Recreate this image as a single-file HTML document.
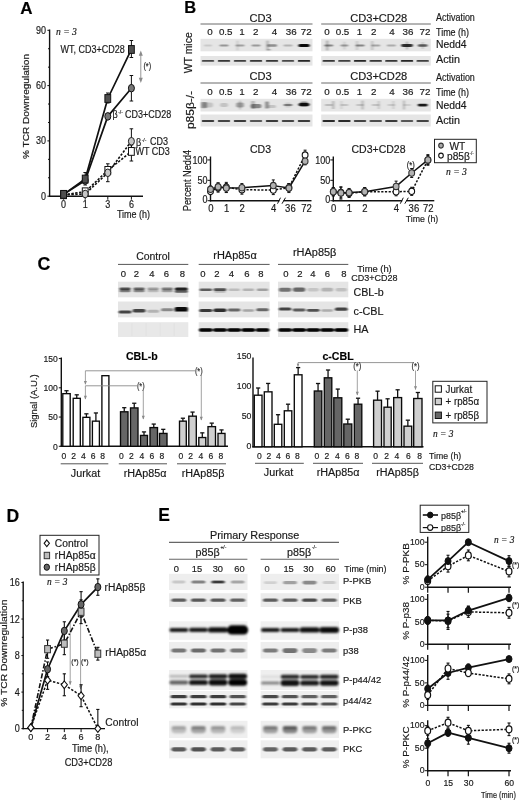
<!DOCTYPE html>
<html><head><meta charset="utf-8"><title>Figure</title>
<style>
html,body{margin:0;padding:0;background:#fff;}
body{width:520px;height:801px;overflow:hidden;font-family:"Liberation Sans",sans-serif;}
svg{display:block;filter:grayscale(1) blur(0.35px);}
svg text{font-family:"Liberation Sans",sans-serif;fill:#1a1a1a;stroke:#1a1a1a;stroke-width:0.18px;}
</style></head><body>
<svg width="520" height="801" viewBox="0 0 520 801">
<defs>
<filter id="b1" x="-5%" y="-50%" width="110%" height="200%"><feGaussianBlur stdDeviation="0.9 0.7"/></filter>
<filter id="b2" x="-5%" y="-50%" width="110%" height="200%"><feGaussianBlur stdDeviation="1.2 0.9"/></filter>
<filter id="b0" x="-5%" y="-50%" width="110%" height="200%"><feGaussianBlur stdDeviation="0.6 0.5"/></filter>
</defs>
<rect x="0" y="0" width="520" height="801" fill="#ffffff"/>
<text transform="translate(20.30 13.60)" font-size="17" font-weight="bold" style="fill:#000">A</text>
<line x1="49.60" y1="29.50" x2="49.60" y2="196.80" stroke="#111" stroke-width="1.4"/>
<line x1="48.90" y1="196.20" x2="143.00" y2="196.20" stroke="#111" stroke-width="1.4"/>
<line x1="47.40" y1="196.20" x2="49.60" y2="196.20" stroke="#111" stroke-width="1"/>
<line x1="48.00" y1="177.77" x2="49.60" y2="177.77" stroke="#111" stroke-width="1"/>
<line x1="48.00" y1="159.33" x2="49.60" y2="159.33" stroke="#111" stroke-width="1"/>
<line x1="47.40" y1="140.90" x2="49.60" y2="140.90" stroke="#111" stroke-width="1"/>
<line x1="48.00" y1="122.47" x2="49.60" y2="122.47" stroke="#111" stroke-width="1"/>
<line x1="48.00" y1="104.03" x2="49.60" y2="104.03" stroke="#111" stroke-width="1"/>
<line x1="47.40" y1="85.60" x2="49.60" y2="85.60" stroke="#111" stroke-width="1"/>
<line x1="48.00" y1="67.17" x2="49.60" y2="67.17" stroke="#111" stroke-width="1"/>
<line x1="48.00" y1="48.73" x2="49.60" y2="48.73" stroke="#111" stroke-width="1"/>
<line x1="47.40" y1="30.30" x2="49.60" y2="30.30" stroke="#111" stroke-width="1"/>
<text transform="translate(46.00 199.78) scale(0.9 1)" font-size="10" text-anchor="end">0</text>
<text transform="translate(46.00 144.48) scale(0.9 1)" font-size="10" text-anchor="end">30</text>
<text transform="translate(46.00 89.18) scale(0.9 1)" font-size="10" text-anchor="end">60</text>
<text transform="translate(46.00 33.88) scale(0.9 1)" font-size="10" text-anchor="end">90</text>
<line x1="63.60" y1="196.20" x2="63.60" y2="199.70" stroke="#111" stroke-width="1"/>
<text transform="translate(63.60 208.38) scale(0.9 1)" font-size="10" text-anchor="middle">0</text>
<line x1="85.20" y1="196.20" x2="85.20" y2="199.70" stroke="#111" stroke-width="1"/>
<text transform="translate(85.20 208.38) scale(0.9 1)" font-size="10" text-anchor="middle">1</text>
<line x1="107.80" y1="196.20" x2="107.80" y2="199.70" stroke="#111" stroke-width="1"/>
<text transform="translate(107.80 208.38) scale(0.9 1)" font-size="10" text-anchor="middle">3</text>
<line x1="131.40" y1="196.20" x2="131.40" y2="199.70" stroke="#111" stroke-width="1"/>
<text transform="translate(131.40 208.38) scale(0.9 1)" font-size="10" text-anchor="middle">6</text>
<text transform="translate(133.50 218.38) scale(0.9 1)" font-size="10" text-anchor="middle">Time (h)</text>
<text transform="translate(28.74 106.50) rotate(-90) scale(1.02 1)" font-size="9.9" text-anchor="middle">% TCR Downregulation</text>
<text transform="translate(56.00 34.60)" font-size="9.6" font-style="italic" style='font-family:"Liberation Serif", serif'>n = 3</text>
<polyline points="63.60,194.73 85.20,191.78 107.80,170.39 131.40,151.41" fill="none" stroke="#111" stroke-width="1.6" stroke-linejoin="round" stroke-dasharray="2.4 1.5"/>
<polyline points="63.60,194.73 85.20,193.99 107.80,172.79 131.40,141.27" fill="none" stroke="#111" stroke-width="1.6" stroke-linejoin="round" stroke-dasharray="2.4 1.5"/>
<polyline points="63.60,194.36 85.20,180.53 107.80,116.38 131.40,88.18" fill="none" stroke="#111" stroke-width="1.7" stroke-linejoin="round"/>
<polyline points="63.60,194.36 85.20,179.06 107.80,98.50 131.40,49.47" fill="none" stroke="#111" stroke-width="1.7" stroke-linejoin="round"/>
<line x1="131.40" y1="40.50" x2="131.40" y2="57.50" stroke="#111" stroke-width="1"/>
<line x1="129.60" y1="40.50" x2="133.20" y2="40.50" stroke="#111" stroke-width="1"/>
<line x1="129.60" y1="57.50" x2="133.20" y2="57.50" stroke="#111" stroke-width="1"/>
<line x1="131.40" y1="75.50" x2="131.40" y2="101.00" stroke="#111" stroke-width="1"/>
<line x1="129.60" y1="75.50" x2="133.20" y2="75.50" stroke="#111" stroke-width="1"/>
<line x1="129.60" y1="101.00" x2="133.20" y2="101.00" stroke="#111" stroke-width="1"/>
<line x1="131.40" y1="128.80" x2="131.40" y2="150.00" stroke="#111" stroke-width="1"/>
<line x1="129.60" y1="128.80" x2="133.20" y2="128.80" stroke="#111" stroke-width="1"/>
<line x1="129.60" y1="150.00" x2="133.20" y2="150.00" stroke="#111" stroke-width="1"/>
<line x1="131.40" y1="145.00" x2="131.40" y2="161.00" stroke="#111" stroke-width="1"/>
<line x1="129.60" y1="145.00" x2="133.20" y2="145.00" stroke="#111" stroke-width="1"/>
<line x1="129.60" y1="161.00" x2="133.20" y2="161.00" stroke="#111" stroke-width="1"/>
<line x1="107.80" y1="163.80" x2="107.80" y2="181.70" stroke="#111" stroke-width="1"/>
<line x1="106.00" y1="163.80" x2="109.60" y2="163.80" stroke="#111" stroke-width="1"/>
<line x1="106.00" y1="181.70" x2="109.60" y2="181.70" stroke="#111" stroke-width="1"/>
<line x1="85.20" y1="172.50" x2="85.20" y2="185.00" stroke="#111" stroke-width="1"/>
<line x1="83.40" y1="172.50" x2="87.00" y2="172.50" stroke="#111" stroke-width="1"/>
<line x1="83.40" y1="185.00" x2="87.00" y2="185.00" stroke="#111" stroke-width="1"/>
<line x1="107.80" y1="93.00" x2="107.80" y2="103.00" stroke="#111" stroke-width="1"/>
<line x1="106.00" y1="93.00" x2="109.60" y2="93.00" stroke="#111" stroke-width="1"/>
<line x1="106.00" y1="103.00" x2="109.60" y2="103.00" stroke="#111" stroke-width="1"/>
<rect x="60.70" y="190.83" width="5.80" height="7.80" fill="#fff" stroke="#111" stroke-width="1" />
<rect x="82.30" y="187.88" width="5.80" height="7.80" fill="#fff" stroke="#111" stroke-width="1" />
<rect x="104.90" y="166.49" width="5.80" height="7.80" fill="#fff" stroke="#111" stroke-width="1" />
<rect x="128.50" y="147.51" width="5.80" height="7.80" fill="#fff" stroke="#111" stroke-width="1" />
<ellipse cx="63.60" cy="194.73" rx="3.0" ry="3.8" fill="#c6c6c6" stroke="#222" stroke-width="1" />
<ellipse cx="85.20" cy="193.99" rx="3.0" ry="3.8" fill="#c6c6c6" stroke="#222" stroke-width="1" />
<ellipse cx="107.80" cy="172.79" rx="3.0" ry="3.8" fill="#c6c6c6" stroke="#222" stroke-width="1" />
<ellipse cx="131.40" cy="141.27" rx="3.0" ry="3.8" fill="#c6c6c6" stroke="#222" stroke-width="1" />
<ellipse cx="63.60" cy="194.36" rx="3.0" ry="3.8" fill="#777" stroke="#111" stroke-width="1" />
<ellipse cx="85.20" cy="180.53" rx="3.0" ry="3.8" fill="#777" stroke="#111" stroke-width="1" />
<ellipse cx="107.80" cy="116.38" rx="3.0" ry="3.8" fill="#777" stroke="#111" stroke-width="1" />
<ellipse cx="131.40" cy="88.18" rx="3.0" ry="3.8" fill="#777" stroke="#111" stroke-width="1" />
<rect x="60.70" y="190.46" width="5.80" height="7.80" fill="#4f4f4f" stroke="#111" stroke-width="1" />
<rect x="82.30" y="175.16" width="5.80" height="7.80" fill="#4f4f4f" stroke="#111" stroke-width="1" />
<rect x="104.90" y="94.60" width="5.80" height="7.80" fill="#4f4f4f" stroke="#111" stroke-width="1" />
<rect x="128.50" y="45.57" width="5.80" height="7.80" fill="#4f4f4f" stroke="#111" stroke-width="1" />
<text transform="translate(60.50 52.88) scale(0.9 1)" font-size="10">WT, CD3+CD28</text>
<text transform="translate(112.50 118.30) scale(0.9 1)" font-size="10">β</text>
<text transform="translate(118.20 114.30) scale(0.9 1)" font-size="5.5">-/-</text>
<text transform="translate(125.00 117.88) scale(0.9 1)" font-size="10">CD3+CD28</text>
<text transform="translate(136.00 145.60) scale(0.9 1)" font-size="10">β</text>
<text transform="translate(141.70 141.60) scale(0.9 1)" font-size="5.5">-/-</text>
<text transform="translate(150.00 145.38) scale(0.9 1)" font-size="10">CD3</text>
<text transform="translate(135.50 155.38) scale(0.9 1)" font-size="10">WT CD3</text>
<line x1="140.80" y1="53.00" x2="140.80" y2="80.50" stroke="#8a8a8a" stroke-width="0.9"/>
<polygon points="140.8,50.5 138.8,55.8 142.8,55.8" fill="#8a8a8a"/><polygon points="140.8,83 138.8,77.7 142.8,77.7" fill="#8a8a8a"/>
<text transform="translate(147.30 68.94) scale(0.9 1)" font-size="8.2" text-anchor="middle" style="fill:#333">(*)</text>
<text transform="translate(184.30 13.40)" font-size="16.5" font-weight="bold" style="fill:#000">B</text>
<text transform="translate(192.27 52.80) rotate(-90) scale(0.97 1)" font-size="10.8" text-anchor="middle">WT mice</text>
<text transform="translate(193.68 110.00) rotate(-90) scale(1.05 1)" font-size="11.4" text-anchor="middle">p85β-/-</text>
<text transform="translate(260.50 22.37)" font-size="11.1" text-anchor="middle">CD3</text>
<text transform="translate(378.70 22.37)" font-size="11.1" text-anchor="middle">CD3+CD28</text>
<line x1="200.50" y1="24.00" x2="312.50" y2="24.00" stroke="#6a6a6a" stroke-width="1"/>
<line x1="321.20" y1="24.00" x2="430.80" y2="24.00" stroke="#6a6a6a" stroke-width="1"/>
<text transform="translate(210.00 34.71)" font-size="9.8" text-anchor="middle">0</text>
<text transform="translate(225.70 34.71)" font-size="9.8" text-anchor="middle">0.5</text>
<text transform="translate(242.00 34.71)" font-size="9.8" text-anchor="middle">1</text>
<text transform="translate(255.80 34.71)" font-size="9.8" text-anchor="middle">2</text>
<text transform="translate(274.50 34.71)" font-size="9.8" text-anchor="middle">4</text>
<text transform="translate(291.20 34.71)" font-size="9.8" text-anchor="middle">36</text>
<text transform="translate(306.30 34.71)" font-size="9.8" text-anchor="middle">72</text>
<text transform="translate(327.00 34.71)" font-size="9.8" text-anchor="middle">0</text>
<text transform="translate(342.50 34.71)" font-size="9.8" text-anchor="middle">0.5</text>
<text transform="translate(359.50 34.71)" font-size="9.8" text-anchor="middle">1</text>
<text transform="translate(373.80 34.71)" font-size="9.8" text-anchor="middle">2</text>
<text transform="translate(392.00 34.71)" font-size="9.8" text-anchor="middle">4</text>
<text transform="translate(408.00 34.71)" font-size="9.8" text-anchor="middle">36</text>
<text transform="translate(425.00 34.71)" font-size="9.8" text-anchor="middle">72</text>
<text transform="translate(436.00 21.15) scale(0.88 1)" font-size="10.2">Activation</text>
<text transform="translate(436.00 35.65) scale(0.88 1)" font-size="10.2">Time (h)</text>
<text transform="translate(436.00 48.42) scale(0.96 1)" font-size="10.8">Nedd4</text>
<text transform="translate(436.00 63.17)" font-size="10.8">Actin</text>
<text transform="translate(260.50 80.37)" font-size="11.1" text-anchor="middle">CD3</text>
<text transform="translate(378.70 80.37)" font-size="11.1" text-anchor="middle">CD3+CD28</text>
<line x1="200.50" y1="83.00" x2="312.50" y2="83.00" stroke="#6a6a6a" stroke-width="1"/>
<line x1="321.20" y1="83.00" x2="430.80" y2="83.00" stroke="#6a6a6a" stroke-width="1"/>
<text transform="translate(210.00 94.91)" font-size="9.8" text-anchor="middle">0</text>
<text transform="translate(225.70 94.91)" font-size="9.8" text-anchor="middle">0.5</text>
<text transform="translate(242.00 94.91)" font-size="9.8" text-anchor="middle">1</text>
<text transform="translate(255.80 94.91)" font-size="9.8" text-anchor="middle">2</text>
<text transform="translate(274.50 94.91)" font-size="9.8" text-anchor="middle">4</text>
<text transform="translate(291.20 94.91)" font-size="9.8" text-anchor="middle">36</text>
<text transform="translate(306.30 94.91)" font-size="9.8" text-anchor="middle">72</text>
<text transform="translate(327.00 94.91)" font-size="9.8" text-anchor="middle">0</text>
<text transform="translate(342.50 94.91)" font-size="9.8" text-anchor="middle">0.5</text>
<text transform="translate(359.50 94.91)" font-size="9.8" text-anchor="middle">1</text>
<text transform="translate(373.80 94.91)" font-size="9.8" text-anchor="middle">2</text>
<text transform="translate(392.00 94.91)" font-size="9.8" text-anchor="middle">4</text>
<text transform="translate(408.00 94.91)" font-size="9.8" text-anchor="middle">36</text>
<text transform="translate(425.00 94.91)" font-size="9.8" text-anchor="middle">72</text>
<text transform="translate(436.00 80.65) scale(0.88 1)" font-size="10.2">Activation</text>
<text transform="translate(436.00 95.85) scale(0.88 1)" font-size="10.2">Time (h)</text>
<text transform="translate(436.00 108.52) scale(0.96 1)" font-size="10.8">Nedd4</text>
<text transform="translate(436.00 124.37)" font-size="10.8">Actin</text>
<rect x="200.50" y="38.80" width="112.00" height="12.50" fill="#e5e5e5" />
<g filter="url(#b1)" clip-path="none">
<rect x="204.00" y="44.50" width="8.00" height="2.00" rx="1.00" fill="#000" fill-opacity="0.12"/>
<rect x="219.50" y="44.50" width="9.00" height="2.00" rx="1.00" fill="#000" fill-opacity="0.35"/>
<rect x="235.50" y="44.50" width="9.00" height="2.00" rx="1.00" fill="#000" fill-opacity="0.3"/>
<rect x="236.30" y="40.50" width="2.40" height="10.00" rx="0.54" fill="#000" fill-opacity="0.1"/>
<rect x="251.50" y="44.50" width="9.00" height="2.00" rx="1.00" fill="#000" fill-opacity="0.33"/>
<rect x="267.00" y="44.30" width="10.00" height="2.40" rx="1.20" fill="#000" fill-opacity="0.38"/>
<rect x="266.00" y="40.50" width="3.00" height="10.00" rx="0.68" fill="#000" fill-opacity="0.18"/>
<rect x="267.00" y="49.00" width="4.00" height="1.60" rx="0.80" fill="#000" fill-opacity="0.22"/>
<rect x="283.50" y="44.60" width="9.00" height="1.80" rx="0.90" fill="#000" fill-opacity="0.22"/>
<rect x="298.40" y="44.00" width="11.20" height="3.00" rx="1.50" fill="#000" fill-opacity="0.95"/>
<rect x="299.50" y="44.50" width="9.00" height="2.00" rx="1.00" fill="#000" fill-opacity="0.5"/>
</g>
<rect x="321.20" y="38.80" width="109.60" height="12.50" fill="#e5e5e5" />
<g filter="url(#b1)" clip-path="none">
<rect x="324.23" y="44.40" width="9.00" height="2.20" rx="1.10" fill="#000" fill-opacity="0.42"/>
<rect x="325.93" y="40.50" width="2.60" height="10.00" rx="0.59" fill="#000" fill-opacity="0.22"/>
<rect x="340.39" y="44.50" width="8.00" height="2.00" rx="1.00" fill="#000" fill-opacity="0.32"/>
<rect x="343.19" y="41.50" width="2.40" height="8.00" rx="0.54" fill="#000" fill-opacity="0.1"/>
<rect x="355.54" y="44.50" width="9.00" height="2.00" rx="1.00" fill="#000" fill-opacity="0.42"/>
<rect x="355.84" y="41.00" width="2.40" height="9.00" rx="0.54" fill="#000" fill-opacity="0.12"/>
<rect x="371.20" y="44.50" width="9.00" height="2.00" rx="1.00" fill="#000" fill-opacity="0.28"/>
<rect x="371.00" y="41.00" width="2.40" height="9.00" rx="0.54" fill="#000" fill-opacity="0.15"/>
<rect x="386.86" y="44.60" width="9.00" height="1.80" rx="0.90" fill="#000" fill-opacity="0.25"/>
<rect x="401.21" y="44.10" width="11.60" height="2.80" rx="1.40" fill="#000" fill-opacity="0.8"/>
<rect x="405.81" y="41.50" width="2.40" height="8.00" rx="0.54" fill="#000" fill-opacity="0.2"/>
<rect x="417.87" y="44.30" width="9.60" height="2.40" rx="1.20" fill="#000" fill-opacity="0.6"/>
<rect x="421.67" y="42.00" width="2.00" height="7.00" rx="0.45" fill="#000" fill-opacity="0.15"/>
</g>
<rect x="200.50" y="56.00" width="112.00" height="9.60" fill="#e5e5e5" />
<g filter="url(#b0)" clip-path="none">
<rect x="201.70" y="59.95" width="12.60" height="1.90" rx="0.95" fill="#000" fill-opacity="0.615"/>
<rect x="203.00" y="60.30" width="10.00" height="1.20" rx="0.60" fill="#000" fill-opacity="0.26249999999999996"/>
<rect x="217.70" y="59.95" width="12.60" height="1.90" rx="0.95" fill="#000" fill-opacity="0.697"/>
<rect x="219.00" y="60.30" width="10.00" height="1.20" rx="0.60" fill="#000" fill-opacity="0.2975"/>
<rect x="233.70" y="59.95" width="12.60" height="1.90" rx="0.95" fill="#000" fill-opacity="0.656"/>
<rect x="235.00" y="60.30" width="10.00" height="1.20" rx="0.60" fill="#000" fill-opacity="0.27999999999999997"/>
<rect x="249.70" y="59.95" width="12.60" height="1.90" rx="0.95" fill="#000" fill-opacity="0.697"/>
<rect x="251.00" y="60.30" width="10.00" height="1.20" rx="0.60" fill="#000" fill-opacity="0.2975"/>
<rect x="265.70" y="59.95" width="12.60" height="1.90" rx="0.95" fill="#000" fill-opacity="0.697"/>
<rect x="267.00" y="60.30" width="10.00" height="1.20" rx="0.60" fill="#000" fill-opacity="0.2975"/>
<rect x="281.70" y="59.95" width="12.60" height="1.90" rx="0.95" fill="#000" fill-opacity="0.615"/>
<rect x="283.00" y="60.30" width="10.00" height="1.20" rx="0.60" fill="#000" fill-opacity="0.26249999999999996"/>
<rect x="297.70" y="59.95" width="12.60" height="1.90" rx="0.95" fill="#000" fill-opacity="0.7789999999999999"/>
<rect x="299.00" y="60.30" width="10.00" height="1.20" rx="0.60" fill="#000" fill-opacity="0.33249999999999996"/>
</g>
<rect x="321.20" y="56.00" width="109.60" height="9.60" fill="#e5e5e5" />
<g filter="url(#b0)" clip-path="none">
<rect x="322.43" y="59.95" width="12.60" height="1.90" rx="0.95" fill="#000" fill-opacity="0.697"/>
<rect x="323.73" y="60.30" width="10.00" height="1.20" rx="0.60" fill="#000" fill-opacity="0.2975"/>
<rect x="338.09" y="59.95" width="12.60" height="1.90" rx="0.95" fill="#000" fill-opacity="0.656"/>
<rect x="339.39" y="60.30" width="10.00" height="1.20" rx="0.60" fill="#000" fill-opacity="0.27999999999999997"/>
<rect x="353.74" y="59.95" width="12.60" height="1.90" rx="0.95" fill="#000" fill-opacity="0.7789999999999999"/>
<rect x="355.04" y="60.30" width="10.00" height="1.20" rx="0.60" fill="#000" fill-opacity="0.33249999999999996"/>
<rect x="369.40" y="59.95" width="12.60" height="1.90" rx="0.95" fill="#000" fill-opacity="0.697"/>
<rect x="370.70" y="60.30" width="10.00" height="1.20" rx="0.60" fill="#000" fill-opacity="0.2975"/>
<rect x="385.06" y="59.95" width="12.60" height="1.90" rx="0.95" fill="#000" fill-opacity="0.697"/>
<rect x="386.36" y="60.30" width="10.00" height="1.20" rx="0.60" fill="#000" fill-opacity="0.2975"/>
<rect x="400.71" y="59.95" width="12.60" height="1.90" rx="0.95" fill="#000" fill-opacity="0.7789999999999999"/>
<rect x="402.01" y="60.30" width="10.00" height="1.20" rx="0.60" fill="#000" fill-opacity="0.33249999999999996"/>
<rect x="416.37" y="59.95" width="12.60" height="1.90" rx="0.95" fill="#000" fill-opacity="0.656"/>
<rect x="417.67" y="60.30" width="10.00" height="1.20" rx="0.60" fill="#000" fill-opacity="0.27999999999999997"/>
</g>
<rect x="200.50" y="98.80" width="112.00" height="12.70" fill="#e5e5e5" />
<g filter="url(#b1)" clip-path="none">
<rect x="201.00" y="101.90" width="6.00" height="6.40" rx="1.35" fill="#000" fill-opacity="0.35"/>
<rect x="203.00" y="102.60" width="10.00" height="5.00" rx="2.25" fill="#000" fill-opacity="0.15"/>
<rect x="220.00" y="103.10" width="8.00" height="4.00" rx="1.80" fill="#000" fill-opacity="0.15"/>
<rect x="236.00" y="102.60" width="8.00" height="5.00" rx="1.80" fill="#000" fill-opacity="0.3"/>
<rect x="238.80" y="100.60" width="2.40" height="9.00" rx="0.54" fill="#000" fill-opacity="0.15"/>
<rect x="250.50" y="103.90" width="11.00" height="4.40" rx="2.20" fill="#000" fill-opacity="0.42"/>
<rect x="251.00" y="101.10" width="4.00" height="8.00" rx="0.90" fill="#000" fill-opacity="0.2"/>
<rect x="265.00" y="101.60" width="4.00" height="7.00" rx="0.90" fill="#000" fill-opacity="0.35"/>
<rect x="268.00" y="105.10" width="8.00" height="3.00" rx="1.50" fill="#000" fill-opacity="0.15"/>
<rect x="283.50" y="104.10" width="9.00" height="2.00" rx="1.00" fill="#000" fill-opacity="0.42"/>
<rect x="285.00" y="102.60" width="6.00" height="5.00" rx="1.35" fill="#000" fill-opacity="0.1"/>
<rect x="298.50" y="103.00" width="11.00" height="3.20" rx="1.60" fill="#000" fill-opacity="0.9"/>
<rect x="300.00" y="101.60" width="8.00" height="5.00" rx="1.80" fill="#000" fill-opacity="0.4"/>
</g>
<rect x="321.20" y="98.80" width="109.60" height="12.70" fill="#e5e5e5" />
<g filter="url(#b1)" clip-path="none">
<rect x="324.73" y="104.10" width="8.00" height="2.00" rx="1.00" fill="#000" fill-opacity="0.18"/>
<rect x="332.03" y="101.10" width="2.40" height="8.00" rx="0.54" fill="#000" fill-opacity="0.2"/>
<rect x="340.39" y="104.10" width="8.00" height="2.00" rx="1.00" fill="#000" fill-opacity="0.15"/>
<rect x="340.39" y="101.10" width="2.00" height="8.00" rx="0.45" fill="#000" fill-opacity="0.1"/>
<rect x="356.04" y="104.10" width="8.00" height="2.00" rx="1.00" fill="#000" fill-opacity="0.15"/>
<rect x="361.44" y="100.60" width="2.20" height="9.00" rx="0.50" fill="#000" fill-opacity="0.2"/>
<rect x="371.70" y="104.10" width="8.00" height="2.00" rx="1.00" fill="#000" fill-opacity="0.15"/>
<rect x="377.70" y="101.10" width="2.00" height="8.00" rx="0.45" fill="#000" fill-opacity="0.15"/>
<rect x="387.36" y="104.10" width="8.00" height="2.00" rx="1.00" fill="#000" fill-opacity="0.12"/>
<rect x="392.36" y="101.10" width="2.00" height="8.00" rx="0.45" fill="#000" fill-opacity="0.12"/>
<rect x="403.01" y="104.10" width="8.00" height="2.00" rx="1.00" fill="#000" fill-opacity="0.1"/>
<rect x="403.01" y="100.60" width="2.00" height="9.00" rx="0.45" fill="#000" fill-opacity="0.2"/>
<rect x="417.67" y="103.80" width="10.00" height="2.60" rx="1.30" fill="#000" fill-opacity="0.85"/>
<rect x="418.67" y="104.10" width="8.00" height="2.00" rx="1.00" fill="#000" fill-opacity="0.3"/>
</g>
<rect x="200.50" y="114.50" width="112.00" height="12.00" fill="#e5e5e5" />
<g filter="url(#b0)" clip-path="none">
<rect x="201.70" y="120.05" width="12.60" height="1.90" rx="0.95" fill="#000" fill-opacity="0.697"/>
<rect x="203.00" y="120.40" width="10.00" height="1.20" rx="0.60" fill="#000" fill-opacity="0.2975"/>
<rect x="217.70" y="120.05" width="12.60" height="1.90" rx="0.95" fill="#000" fill-opacity="0.656"/>
<rect x="219.00" y="120.40" width="10.00" height="1.20" rx="0.60" fill="#000" fill-opacity="0.27999999999999997"/>
<rect x="233.70" y="120.05" width="12.60" height="1.90" rx="0.95" fill="#000" fill-opacity="0.697"/>
<rect x="235.00" y="120.40" width="10.00" height="1.20" rx="0.60" fill="#000" fill-opacity="0.2975"/>
<rect x="249.70" y="120.05" width="12.60" height="1.90" rx="0.95" fill="#000" fill-opacity="0.574"/>
<rect x="251.00" y="120.40" width="10.00" height="1.20" rx="0.60" fill="#000" fill-opacity="0.24499999999999997"/>
<rect x="265.70" y="120.05" width="12.60" height="1.90" rx="0.95" fill="#000" fill-opacity="0.697"/>
<rect x="267.00" y="120.40" width="10.00" height="1.20" rx="0.60" fill="#000" fill-opacity="0.2975"/>
<rect x="281.70" y="120.05" width="12.60" height="1.90" rx="0.95" fill="#000" fill-opacity="0.656"/>
<rect x="283.00" y="120.40" width="10.00" height="1.20" rx="0.60" fill="#000" fill-opacity="0.27999999999999997"/>
<rect x="297.70" y="120.05" width="12.60" height="1.90" rx="0.95" fill="#000" fill-opacity="0.697"/>
<rect x="299.00" y="120.40" width="10.00" height="1.20" rx="0.60" fill="#000" fill-opacity="0.2975"/>
</g>
<rect x="321.20" y="114.50" width="109.60" height="12.00" fill="#e5e5e5" />
<g filter="url(#b0)" clip-path="none">
<rect x="322.43" y="120.05" width="12.60" height="1.90" rx="0.95" fill="#000" fill-opacity="0.7789999999999999"/>
<rect x="323.73" y="120.40" width="10.00" height="1.20" rx="0.60" fill="#000" fill-opacity="0.33249999999999996"/>
<rect x="338.09" y="120.05" width="12.60" height="1.90" rx="0.95" fill="#000" fill-opacity="0.7789999999999999"/>
<rect x="339.39" y="120.40" width="10.00" height="1.20" rx="0.60" fill="#000" fill-opacity="0.33249999999999996"/>
<rect x="353.74" y="120.05" width="12.60" height="1.90" rx="0.95" fill="#000" fill-opacity="0.656"/>
<rect x="355.04" y="120.40" width="10.00" height="1.20" rx="0.60" fill="#000" fill-opacity="0.27999999999999997"/>
<rect x="369.40" y="120.05" width="12.60" height="1.90" rx="0.95" fill="#000" fill-opacity="0.615"/>
<rect x="370.70" y="120.40" width="10.00" height="1.20" rx="0.60" fill="#000" fill-opacity="0.26249999999999996"/>
<rect x="385.06" y="120.05" width="12.60" height="1.90" rx="0.95" fill="#000" fill-opacity="0.697"/>
<rect x="386.36" y="120.40" width="10.00" height="1.20" rx="0.60" fill="#000" fill-opacity="0.2975"/>
<rect x="400.71" y="120.05" width="12.60" height="1.90" rx="0.95" fill="#000" fill-opacity="0.574"/>
<rect x="402.01" y="120.40" width="10.00" height="1.20" rx="0.60" fill="#000" fill-opacity="0.24499999999999997"/>
<rect x="416.37" y="120.05" width="12.60" height="1.90" rx="0.95" fill="#000" fill-opacity="0.656"/>
<rect x="417.67" y="120.40" width="10.00" height="1.20" rx="0.60" fill="#000" fill-opacity="0.27999999999999997"/>
</g>
<text transform="translate(190.98 180.50) rotate(-90) scale(0.92 1)" font-size="10" text-anchor="middle">Percent Nedd4</text>
<line x1="210.50" y1="156.50" x2="210.50" y2="201.40" stroke="#111" stroke-width="1.4"/>
<line x1="209.80" y1="200.70" x2="279.50" y2="200.70" stroke="#111" stroke-width="1.4"/>
<line x1="283.50" y1="200.70" x2="311.50" y2="200.70" stroke="#111" stroke-width="1.4"/>
<line x1="277.50" y1="203.70" x2="280.50" y2="197.70" stroke="#111" stroke-width="1"/>
<line x1="282.00" y1="203.70" x2="285.50" y2="197.70" stroke="#111" stroke-width="1"/>
<line x1="207.50" y1="200.70" x2="210.50" y2="200.70" stroke="#111" stroke-width="1"/>
<text transform="translate(207.50 203.48) scale(0.9 1)" font-size="10" text-anchor="end">0</text>
<line x1="207.50" y1="180.32" x2="210.50" y2="180.32" stroke="#111" stroke-width="1"/>
<text transform="translate(207.50 184.41) scale(0.9 1)" font-size="10" text-anchor="end">50</text>
<line x1="207.50" y1="159.95" x2="210.50" y2="159.95" stroke="#111" stroke-width="1"/>
<text transform="translate(207.50 164.03) scale(0.9 1)" font-size="10" text-anchor="end">100</text>
<text transform="translate(210.80 211.98) scale(0.95 1)" font-size="10" text-anchor="middle">0</text>
<text transform="translate(226.60 211.98) scale(0.95 1)" font-size="10" text-anchor="middle">1</text>
<text transform="translate(242.20 211.98) scale(0.95 1)" font-size="10" text-anchor="middle">2</text>
<text transform="translate(273.60 211.98) scale(0.95 1)" font-size="10" text-anchor="middle">4</text>
<text transform="translate(290.40 211.98) scale(0.95 1)" font-size="10" text-anchor="middle">36</text>
<text transform="translate(306.60 211.98) scale(0.95 1)" font-size="10" text-anchor="middle">72</text>
<text transform="translate(260.50 152.76)" font-size="10.5" text-anchor="middle">CD3</text>
<polyline points="210.50,191.33 218.10,187.66 226.30,187.25 241.90,189.70 273.30,190.10 288.90,187.66 305.10,155.06" fill="none" stroke="#111" stroke-width="1.5" stroke-linejoin="round" stroke-dasharray="2.2 1.5"/>
<polyline points="210.50,189.29 218.10,186.84 226.30,188.07 241.90,187.66 273.30,185.62 288.90,188.07 305.10,161.17" fill="none" stroke="#111" stroke-width="1.5" stroke-linejoin="round"/>
<line x1="210.50" y1="188.07" x2="210.50" y2="194.59" stroke="#111" stroke-width="1"/>
<line x1="209.00" y1="188.07" x2="212.00" y2="188.07" stroke="#111" stroke-width="1"/>
<line x1="209.00" y1="194.59" x2="212.00" y2="194.59" stroke="#111" stroke-width="1"/>
<line x1="218.10" y1="183.18" x2="218.10" y2="192.14" stroke="#111" stroke-width="1"/>
<line x1="216.60" y1="183.18" x2="219.60" y2="183.18" stroke="#111" stroke-width="1"/>
<line x1="216.60" y1="192.14" x2="219.60" y2="192.14" stroke="#111" stroke-width="1"/>
<line x1="226.30" y1="182.36" x2="226.30" y2="192.14" stroke="#111" stroke-width="1"/>
<line x1="224.80" y1="182.36" x2="227.80" y2="182.36" stroke="#111" stroke-width="1"/>
<line x1="224.80" y1="192.14" x2="227.80" y2="192.14" stroke="#111" stroke-width="1"/>
<line x1="241.90" y1="185.21" x2="241.90" y2="194.18" stroke="#111" stroke-width="1"/>
<line x1="240.40" y1="185.21" x2="243.40" y2="185.21" stroke="#111" stroke-width="1"/>
<line x1="240.40" y1="194.18" x2="243.40" y2="194.18" stroke="#111" stroke-width="1"/>
<line x1="273.30" y1="185.62" x2="273.30" y2="194.59" stroke="#111" stroke-width="1"/>
<line x1="271.80" y1="185.62" x2="274.80" y2="185.62" stroke="#111" stroke-width="1"/>
<line x1="271.80" y1="194.59" x2="274.80" y2="194.59" stroke="#111" stroke-width="1"/>
<line x1="288.90" y1="183.58" x2="288.90" y2="191.73" stroke="#111" stroke-width="1"/>
<line x1="287.40" y1="183.58" x2="290.40" y2="183.58" stroke="#111" stroke-width="1"/>
<line x1="287.40" y1="191.73" x2="290.40" y2="191.73" stroke="#111" stroke-width="1"/>
<line x1="305.10" y1="150.17" x2="305.10" y2="159.95" stroke="#111" stroke-width="1"/>
<line x1="303.60" y1="150.17" x2="306.60" y2="150.17" stroke="#111" stroke-width="1"/>
<line x1="303.60" y1="159.95" x2="306.60" y2="159.95" stroke="#111" stroke-width="1"/>
<line x1="210.50" y1="186.03" x2="210.50" y2="192.55" stroke="#111" stroke-width="1"/>
<line x1="209.00" y1="186.03" x2="212.00" y2="186.03" stroke="#111" stroke-width="1"/>
<line x1="209.00" y1="192.55" x2="212.00" y2="192.55" stroke="#111" stroke-width="1"/>
<line x1="218.10" y1="182.77" x2="218.10" y2="190.92" stroke="#111" stroke-width="1"/>
<line x1="216.60" y1="182.77" x2="219.60" y2="182.77" stroke="#111" stroke-width="1"/>
<line x1="216.60" y1="190.92" x2="219.60" y2="190.92" stroke="#111" stroke-width="1"/>
<line x1="226.30" y1="183.58" x2="226.30" y2="192.55" stroke="#111" stroke-width="1"/>
<line x1="224.80" y1="183.58" x2="227.80" y2="183.58" stroke="#111" stroke-width="1"/>
<line x1="224.80" y1="192.55" x2="227.80" y2="192.55" stroke="#111" stroke-width="1"/>
<line x1="241.90" y1="183.58" x2="241.90" y2="191.73" stroke="#111" stroke-width="1"/>
<line x1="240.40" y1="183.58" x2="243.40" y2="183.58" stroke="#111" stroke-width="1"/>
<line x1="240.40" y1="191.73" x2="243.40" y2="191.73" stroke="#111" stroke-width="1"/>
<line x1="273.30" y1="179.92" x2="273.30" y2="191.33" stroke="#111" stroke-width="1"/>
<line x1="271.80" y1="179.92" x2="274.80" y2="179.92" stroke="#111" stroke-width="1"/>
<line x1="271.80" y1="191.33" x2="274.80" y2="191.33" stroke="#111" stroke-width="1"/>
<line x1="288.90" y1="183.58" x2="288.90" y2="192.55" stroke="#111" stroke-width="1"/>
<line x1="287.40" y1="183.58" x2="290.40" y2="183.58" stroke="#111" stroke-width="1"/>
<line x1="287.40" y1="192.55" x2="290.40" y2="192.55" stroke="#111" stroke-width="1"/>
<line x1="305.10" y1="157.50" x2="305.10" y2="164.84" stroke="#111" stroke-width="1"/>
<line x1="303.60" y1="157.50" x2="306.60" y2="157.50" stroke="#111" stroke-width="1"/>
<line x1="303.60" y1="164.84" x2="306.60" y2="164.84" stroke="#111" stroke-width="1"/>
<ellipse cx="210.50" cy="191.33" rx="2.9" ry="3.2" fill="#fff" stroke="#111" stroke-width="1.1" />
<ellipse cx="218.10" cy="187.66" rx="2.9" ry="3.2" fill="#fff" stroke="#111" stroke-width="1.1" />
<ellipse cx="226.30" cy="187.25" rx="2.9" ry="3.2" fill="#fff" stroke="#111" stroke-width="1.1" />
<ellipse cx="241.90" cy="189.70" rx="2.9" ry="3.2" fill="#fff" stroke="#111" stroke-width="1.1" />
<ellipse cx="273.30" cy="190.10" rx="2.9" ry="3.2" fill="#fff" stroke="#111" stroke-width="1.1" />
<ellipse cx="288.90" cy="187.66" rx="2.9" ry="3.2" fill="#fff" stroke="#111" stroke-width="1.1" />
<ellipse cx="305.10" cy="155.06" rx="2.9" ry="3.2" fill="#fff" stroke="#111" stroke-width="1.1" />
<ellipse cx="210.50" cy="189.29" rx="2.9" ry="3.2" fill="#b2b2b2" stroke="#333" stroke-width="1.1" />
<ellipse cx="218.10" cy="186.84" rx="2.9" ry="3.2" fill="#b2b2b2" stroke="#333" stroke-width="1.1" />
<ellipse cx="226.30" cy="188.07" rx="2.9" ry="3.2" fill="#b2b2b2" stroke="#333" stroke-width="1.1" />
<ellipse cx="241.90" cy="187.66" rx="2.9" ry="3.2" fill="#b2b2b2" stroke="#333" stroke-width="1.1" />
<ellipse cx="273.30" cy="185.62" rx="2.9" ry="3.2" fill="#b2b2b2" stroke="#333" stroke-width="1.1" />
<ellipse cx="288.90" cy="188.07" rx="2.9" ry="3.2" fill="#b2b2b2" stroke="#333" stroke-width="1.1" />
<ellipse cx="305.10" cy="161.17" rx="2.9" ry="3.2" fill="#b2b2b2" stroke="#333" stroke-width="1.1" />
<line x1="333.30" y1="156.50" x2="333.30" y2="201.40" stroke="#111" stroke-width="1.4"/>
<line x1="332.60" y1="200.70" x2="402.30" y2="200.70" stroke="#111" stroke-width="1.4"/>
<line x1="406.30" y1="200.70" x2="434.30" y2="200.70" stroke="#111" stroke-width="1.4"/>
<line x1="400.30" y1="203.70" x2="403.30" y2="197.70" stroke="#111" stroke-width="1"/>
<line x1="404.80" y1="203.70" x2="408.30" y2="197.70" stroke="#111" stroke-width="1"/>
<line x1="330.30" y1="200.70" x2="333.30" y2="200.70" stroke="#111" stroke-width="1"/>
<text transform="translate(330.30 203.48) scale(0.9 1)" font-size="10" text-anchor="end">0</text>
<line x1="330.30" y1="180.32" x2="333.30" y2="180.32" stroke="#111" stroke-width="1"/>
<text transform="translate(330.30 184.41) scale(0.9 1)" font-size="10" text-anchor="end">50</text>
<line x1="330.30" y1="159.95" x2="333.30" y2="159.95" stroke="#111" stroke-width="1"/>
<text transform="translate(330.30 164.03) scale(0.9 1)" font-size="10" text-anchor="end">100</text>
<text transform="translate(333.60 211.98) scale(0.95 1)" font-size="10" text-anchor="middle">0</text>
<text transform="translate(349.40 211.98) scale(0.95 1)" font-size="10" text-anchor="middle">1</text>
<text transform="translate(365.00 211.98) scale(0.95 1)" font-size="10" text-anchor="middle">2</text>
<text transform="translate(396.40 211.98) scale(0.95 1)" font-size="10" text-anchor="middle">4</text>
<text transform="translate(413.90 211.98) scale(0.95 1)" font-size="10" text-anchor="middle">36</text>
<text transform="translate(428.30 211.98) scale(0.95 1)" font-size="10" text-anchor="middle">72</text>
<text transform="translate(378.50 152.76)" font-size="10.5" text-anchor="middle">CD3+CD28</text>
<polyline points="333.30,191.73 340.90,192.55 349.10,193.36 364.70,191.73 396.10,191.73 411.70,191.33 427.90,159.95" fill="none" stroke="#111" stroke-width="1.5" stroke-linejoin="round" stroke-dasharray="2.2 1.5"/>
<polyline points="333.30,191.73 340.90,192.96 349.10,192.55 364.70,191.73 396.10,186.44 411.70,172.99 427.90,159.95" fill="none" stroke="#111" stroke-width="1.5" stroke-linejoin="round"/>
<line x1="333.30" y1="187.66" x2="333.30" y2="195.81" stroke="#111" stroke-width="1"/>
<line x1="331.80" y1="187.66" x2="334.80" y2="187.66" stroke="#111" stroke-width="1"/>
<line x1="331.80" y1="195.81" x2="334.80" y2="195.81" stroke="#111" stroke-width="1"/>
<line x1="340.90" y1="187.25" x2="340.90" y2="197.85" stroke="#111" stroke-width="1"/>
<line x1="339.40" y1="187.25" x2="342.40" y2="187.25" stroke="#111" stroke-width="1"/>
<line x1="339.40" y1="197.85" x2="342.40" y2="197.85" stroke="#111" stroke-width="1"/>
<line x1="349.10" y1="189.29" x2="349.10" y2="197.44" stroke="#111" stroke-width="1"/>
<line x1="347.60" y1="189.29" x2="350.60" y2="189.29" stroke="#111" stroke-width="1"/>
<line x1="347.60" y1="197.44" x2="350.60" y2="197.44" stroke="#111" stroke-width="1"/>
<line x1="364.70" y1="187.66" x2="364.70" y2="195.81" stroke="#111" stroke-width="1"/>
<line x1="363.20" y1="187.66" x2="366.20" y2="187.66" stroke="#111" stroke-width="1"/>
<line x1="363.20" y1="195.81" x2="366.20" y2="195.81" stroke="#111" stroke-width="1"/>
<line x1="396.10" y1="187.66" x2="396.10" y2="195.81" stroke="#111" stroke-width="1"/>
<line x1="394.60" y1="187.66" x2="397.60" y2="187.66" stroke="#111" stroke-width="1"/>
<line x1="394.60" y1="195.81" x2="397.60" y2="195.81" stroke="#111" stroke-width="1"/>
<line x1="411.70" y1="187.25" x2="411.70" y2="195.40" stroke="#111" stroke-width="1"/>
<line x1="410.20" y1="187.25" x2="413.20" y2="187.25" stroke="#111" stroke-width="1"/>
<line x1="410.20" y1="195.40" x2="413.20" y2="195.40" stroke="#111" stroke-width="1"/>
<line x1="427.90" y1="154.65" x2="427.90" y2="165.25" stroke="#111" stroke-width="1"/>
<line x1="426.40" y1="154.65" x2="429.40" y2="154.65" stroke="#111" stroke-width="1"/>
<line x1="426.40" y1="165.25" x2="429.40" y2="165.25" stroke="#111" stroke-width="1"/>
<line x1="333.30" y1="187.66" x2="333.30" y2="195.81" stroke="#111" stroke-width="1"/>
<line x1="331.80" y1="187.66" x2="334.80" y2="187.66" stroke="#111" stroke-width="1"/>
<line x1="331.80" y1="195.81" x2="334.80" y2="195.81" stroke="#111" stroke-width="1"/>
<line x1="340.90" y1="186.84" x2="340.90" y2="199.07" stroke="#111" stroke-width="1"/>
<line x1="339.40" y1="186.84" x2="342.40" y2="186.84" stroke="#111" stroke-width="1"/>
<line x1="339.40" y1="199.07" x2="342.40" y2="199.07" stroke="#111" stroke-width="1"/>
<line x1="349.10" y1="188.47" x2="349.10" y2="196.62" stroke="#111" stroke-width="1"/>
<line x1="347.60" y1="188.47" x2="350.60" y2="188.47" stroke="#111" stroke-width="1"/>
<line x1="347.60" y1="196.62" x2="350.60" y2="196.62" stroke="#111" stroke-width="1"/>
<line x1="364.70" y1="187.66" x2="364.70" y2="195.81" stroke="#111" stroke-width="1"/>
<line x1="363.20" y1="187.66" x2="366.20" y2="187.66" stroke="#111" stroke-width="1"/>
<line x1="363.20" y1="195.81" x2="366.20" y2="195.81" stroke="#111" stroke-width="1"/>
<line x1="396.10" y1="181.14" x2="396.10" y2="191.73" stroke="#111" stroke-width="1"/>
<line x1="394.60" y1="181.14" x2="397.60" y2="181.14" stroke="#111" stroke-width="1"/>
<line x1="394.60" y1="191.73" x2="397.60" y2="191.73" stroke="#111" stroke-width="1"/>
<line x1="411.70" y1="168.51" x2="411.70" y2="177.47" stroke="#111" stroke-width="1"/>
<line x1="410.20" y1="168.51" x2="413.20" y2="168.51" stroke="#111" stroke-width="1"/>
<line x1="410.20" y1="177.47" x2="413.20" y2="177.47" stroke="#111" stroke-width="1"/>
<line x1="427.90" y1="155.47" x2="427.90" y2="164.43" stroke="#111" stroke-width="1"/>
<line x1="426.40" y1="155.47" x2="429.40" y2="155.47" stroke="#111" stroke-width="1"/>
<line x1="426.40" y1="164.43" x2="429.40" y2="164.43" stroke="#111" stroke-width="1"/>
<ellipse cx="333.30" cy="191.73" rx="2.9" ry="3.2" fill="#fff" stroke="#111" stroke-width="1.1" />
<ellipse cx="340.90" cy="192.55" rx="2.9" ry="3.2" fill="#fff" stroke="#111" stroke-width="1.1" />
<ellipse cx="349.10" cy="193.36" rx="2.9" ry="3.2" fill="#fff" stroke="#111" stroke-width="1.1" />
<ellipse cx="364.70" cy="191.73" rx="2.9" ry="3.2" fill="#fff" stroke="#111" stroke-width="1.1" />
<ellipse cx="396.10" cy="191.73" rx="2.9" ry="3.2" fill="#fff" stroke="#111" stroke-width="1.1" />
<ellipse cx="411.70" cy="191.33" rx="2.9" ry="3.2" fill="#fff" stroke="#111" stroke-width="1.1" />
<ellipse cx="427.90" cy="159.95" rx="2.9" ry="3.2" fill="#fff" stroke="#111" stroke-width="1.1" />
<ellipse cx="333.30" cy="191.73" rx="2.9" ry="3.2" fill="#b2b2b2" stroke="#333" stroke-width="1.1" />
<ellipse cx="340.90" cy="192.96" rx="2.9" ry="3.2" fill="#b2b2b2" stroke="#333" stroke-width="1.1" />
<ellipse cx="349.10" cy="192.55" rx="2.9" ry="3.2" fill="#b2b2b2" stroke="#333" stroke-width="1.1" />
<ellipse cx="364.70" cy="191.73" rx="2.9" ry="3.2" fill="#b2b2b2" stroke="#333" stroke-width="1.1" />
<ellipse cx="396.10" cy="186.44" rx="2.9" ry="3.2" fill="#b2b2b2" stroke="#333" stroke-width="1.1" />
<ellipse cx="411.70" cy="172.99" rx="2.9" ry="3.2" fill="#b2b2b2" stroke="#333" stroke-width="1.1" />
<ellipse cx="427.90" cy="159.95" rx="2.9" ry="3.2" fill="#b2b2b2" stroke="#333" stroke-width="1.1" />
<text transform="translate(410.80 168.41) scale(0.9 1)" font-size="8.4" text-anchor="middle" style="fill:#222">(*)</text>
<text transform="translate(422.00 221.94) scale(0.92 1)" font-size="9.6" text-anchor="middle">Time (h)</text>
<rect x="434.50" y="139.30" width="41.80" height="23.40" fill="#fff" stroke="#222" stroke-width="1" />
<ellipse cx="441.00" cy="145.60" rx="2.3" ry="2.5" fill="#aaa" stroke="#333" stroke-width="1.1" />
<text transform="translate(449.50 149.56) scale(0.97 1)" font-size="10.5">WT</text>
<ellipse cx="441.00" cy="155.60" rx="2.3" ry="2.5" fill="#fff" stroke="#111" stroke-width="1.1" />
<text transform="translate(447.00 159.56) scale(0.97 1)" font-size="10.5">p85β</text>
<text transform="translate(469.50 155.00) scale(0.9 1)" font-size="5.2" style="fill:#555">-/-</text>
<text transform="translate(446.00 175.00)" font-size="9.6" font-style="italic" style='font-family:"Liberation Serif", serif'>n = 3</text>
<text transform="translate(37.50 269.60)" font-size="17.8" font-weight="bold" style="fill:#000">C</text>
<text transform="translate(153.00 259.67) scale(0.97 1)" font-size="10.8" text-anchor="middle">Control</text>
<line x1="118.00" y1="264.40" x2="188.30" y2="264.40" stroke="#555" stroke-width="1"/>
<text transform="translate(123.50 276.81) scale(0.97 1)" font-size="9.8" text-anchor="middle">0</text>
<text transform="translate(136.30 276.81) scale(0.97 1)" font-size="9.8" text-anchor="middle">2</text>
<text transform="translate(152.00 276.81) scale(0.97 1)" font-size="9.8" text-anchor="middle">4</text>
<text transform="translate(166.50 276.81) scale(0.97 1)" font-size="9.8" text-anchor="middle">6</text>
<text transform="translate(182.40 276.81) scale(0.97 1)" font-size="9.8" text-anchor="middle">8</text>
<text transform="translate(235.00 259.25) scale(0.97 1)" font-size="11.3" text-anchor="middle">rHAp85α</text>
<line x1="198.70" y1="264.40" x2="269.60" y2="264.40" stroke="#555" stroke-width="1"/>
<text transform="translate(202.80 276.81) scale(0.97 1)" font-size="9.8" text-anchor="middle">0</text>
<text transform="translate(217.00 276.81) scale(0.97 1)" font-size="9.8" text-anchor="middle">2</text>
<text transform="translate(231.50 276.81) scale(0.97 1)" font-size="9.8" text-anchor="middle">4</text>
<text transform="translate(247.00 276.81) scale(0.97 1)" font-size="9.8" text-anchor="middle">6</text>
<text transform="translate(261.00 276.81) scale(0.97 1)" font-size="9.8" text-anchor="middle">8</text>
<text transform="translate(314.70 255.85) scale(0.97 1)" font-size="11.3" text-anchor="middle">rHAp85β</text>
<line x1="278.00" y1="264.40" x2="348.30" y2="264.40" stroke="#555" stroke-width="1"/>
<text transform="translate(286.00 276.81) scale(0.97 1)" font-size="9.8" text-anchor="middle">0</text>
<text transform="translate(299.80 276.81) scale(0.97 1)" font-size="9.8" text-anchor="middle">2</text>
<text transform="translate(313.00 276.81) scale(0.97 1)" font-size="9.8" text-anchor="middle">4</text>
<text transform="translate(327.50 276.81) scale(0.97 1)" font-size="9.8" text-anchor="middle">6</text>
<text transform="translate(344.00 276.81) scale(0.97 1)" font-size="9.8" text-anchor="middle">8</text>
<text transform="translate(357.20 272.17)" font-size="9.4">Time (h)</text>
<text transform="translate(351.30 281.09) scale(0.98 1)" font-size="9.2">CD3+CD28</text>
<text transform="translate(353.50 295.56) scale(1.02 1)" font-size="10.5">CBL-b</text>
<text transform="translate(353.50 314.76) scale(1.03 1)" font-size="10.5">c-CBL</text>
<text transform="translate(353.50 333.07)" font-size="10.8">HA</text>
<rect x="118.00" y="281.70" width="70.30" height="15.60" fill="#e5e5e5" />
<g filter="url(#b1)" clip-path="none">
<rect x="119.43" y="287.40" width="11.20" height="2.80" rx="1.40" fill="#000" fill-opacity="0.65"/>
<rect x="119.43" y="289.50" width="11.20" height="2.80" rx="1.40" fill="#000" fill-opacity="0.45"/>
<rect x="133.49" y="287.40" width="11.20" height="2.80" rx="1.40" fill="#000" fill-opacity="0.55"/>
<rect x="133.49" y="289.50" width="11.20" height="2.80" rx="1.40" fill="#000" fill-opacity="0.4"/>
<rect x="147.55" y="287.40" width="11.20" height="2.80" rx="1.40" fill="#000" fill-opacity="0.3"/>
<rect x="147.55" y="289.50" width="11.20" height="2.80" rx="1.40" fill="#000" fill-opacity="0.18"/>
<rect x="161.61" y="287.40" width="11.20" height="2.80" rx="1.40" fill="#000" fill-opacity="0.45"/>
<rect x="161.61" y="289.50" width="11.20" height="2.80" rx="1.40" fill="#000" fill-opacity="0.3"/>
<rect x="174.77" y="287.40" width="13.00" height="3.00" rx="1.50" fill="#000" fill-opacity="0.85"/>
<rect x="174.77" y="290.20" width="13.00" height="2.60" rx="1.30" fill="#000" fill-opacity="0.6"/>
</g>
<rect x="198.70" y="281.70" width="70.90" height="15.60" fill="#e5e5e5" />
<g filter="url(#b1)" clip-path="none">
<rect x="199.59" y="288.40" width="12.40" height="2.60" rx="1.30" fill="#000" fill-opacity="0.6"/>
<rect x="213.67" y="288.30" width="12.60" height="2.80" rx="1.40" fill="#000" fill-opacity="0.65"/>
<rect x="214.27" y="290.70" width="11.40" height="2.00" rx="1.00" fill="#000" fill-opacity="0.2"/>
<rect x="228.45" y="288.50" width="11.40" height="2.40" rx="1.20" fill="#000" fill-opacity="0.18"/>
<rect x="242.63" y="288.50" width="11.40" height="2.40" rx="1.20" fill="#000" fill-opacity="0.22"/>
<rect x="256.81" y="288.40" width="11.40" height="2.60" rx="1.30" fill="#000" fill-opacity="0.3"/>
</g>
<rect x="278.00" y="281.70" width="70.30" height="15.60" fill="#e5e5e5" />
<g filter="url(#b1)" clip-path="none">
<rect x="278.83" y="287.70" width="12.40" height="4.00" rx="2.00" fill="#000" fill-opacity="0.5"/>
<rect x="292.89" y="287.60" width="12.40" height="4.20" rx="2.10" fill="#000" fill-opacity="0.55"/>
<rect x="307.45" y="287.90" width="11.40" height="3.60" rx="1.80" fill="#000" fill-opacity="0.14"/>
<rect x="321.31" y="287.80" width="11.80" height="3.80" rx="1.90" fill="#000" fill-opacity="0.22"/>
<rect x="335.57" y="287.90" width="11.40" height="3.60" rx="1.80" fill="#000" fill-opacity="0.16"/>
</g>
<rect x="118.00" y="301.50" width="70.30" height="15.90" fill="#e5e5e5" />
<g filter="url(#b1)" clip-path="none">
<rect x="118.53" y="310.40" width="13.00" height="3.20" rx="1.60" fill="#000" fill-opacity="0.7"/>
<rect x="132.59" y="309.10" width="13.00" height="3.40" rx="1.70" fill="#000" fill-opacity="0.7"/>
<rect x="147.25" y="309.80" width="11.80" height="3.00" rx="1.50" fill="#000" fill-opacity="0.22"/>
<rect x="161.01" y="308.20" width="12.40" height="3.00" rx="1.50" fill="#000" fill-opacity="0.4"/>
<rect x="174.57" y="307.00" width="13.40" height="4.00" rx="2.00" fill="#000" fill-opacity="0.95"/>
<rect x="174.57" y="309.50" width="13.40" height="2.40" rx="1.20" fill="#000" fill-opacity="0.5"/>
</g>
<rect x="198.70" y="301.50" width="70.90" height="15.90" fill="#e5e5e5" />
<g filter="url(#b1)" clip-path="none">
<rect x="199.29" y="308.90" width="13.00" height="3.20" rx="1.60" fill="#000" fill-opacity="0.75"/>
<rect x="213.47" y="308.60" width="13.00" height="3.40" rx="1.70" fill="#000" fill-opacity="0.8"/>
<rect x="227.95" y="308.60" width="12.40" height="2.80" rx="1.40" fill="#000" fill-opacity="0.55"/>
<rect x="242.63" y="309.20" width="11.40" height="2.60" rx="1.30" fill="#000" fill-opacity="0.28"/>
<rect x="256.31" y="308.30" width="12.40" height="3.00" rx="1.50" fill="#000" fill-opacity="0.55"/>
</g>
<rect x="278.00" y="301.50" width="70.30" height="15.90" fill="#e5e5e5" />
<g filter="url(#b1)" clip-path="none">
<rect x="278.73" y="307.50" width="12.60" height="3.00" rx="1.50" fill="#000" fill-opacity="0.7"/>
<rect x="292.79" y="308.60" width="12.60" height="2.80" rx="1.40" fill="#000" fill-opacity="0.6"/>
<rect x="306.85" y="308.90" width="12.60" height="2.80" rx="1.40" fill="#000" fill-opacity="0.65"/>
<rect x="321.51" y="309.30" width="11.40" height="2.40" rx="1.20" fill="#000" fill-opacity="0.25"/>
<rect x="334.97" y="307.60" width="12.60" height="3.20" rx="1.60" fill="#000" fill-opacity="0.7"/>
</g>
<rect x="118.00" y="322.20" width="70.30" height="14.80" fill="#e8e8e8" />
<line x1="132.03" y1="323.20" x2="132.03" y2="336.00" stroke="#dcdcdc" stroke-width="0.6"/>
<line x1="146.09" y1="323.20" x2="146.09" y2="336.00" stroke="#dcdcdc" stroke-width="0.6"/>
<line x1="160.15" y1="323.20" x2="160.15" y2="336.00" stroke="#dcdcdc" stroke-width="0.6"/>
<line x1="174.21" y1="323.20" x2="174.21" y2="336.00" stroke="#dcdcdc" stroke-width="0.6"/>
<rect x="198.70" y="322.20" width="70.90" height="14.80" fill="#e5e5e5" />
<g filter="url(#b1)" clip-path="none">
<rect x="198.89" y="328.20" width="13.80" height="3.60" rx="1.80" fill="#000" fill-opacity="0.95"/>
<rect x="199.39" y="328.80" width="12.80" height="2.40" rx="1.20" fill="#000" fill-opacity="0.57"/>
<rect x="213.07" y="328.20" width="13.80" height="3.60" rx="1.80" fill="#000" fill-opacity="0.95"/>
<rect x="213.57" y="328.80" width="12.80" height="2.40" rx="1.20" fill="#000" fill-opacity="0.57"/>
<rect x="227.25" y="328.20" width="13.80" height="3.60" rx="1.80" fill="#000" fill-opacity="0.95"/>
<rect x="227.75" y="328.80" width="12.80" height="2.40" rx="1.20" fill="#000" fill-opacity="0.57"/>
<rect x="241.43" y="328.20" width="13.80" height="3.60" rx="1.80" fill="#000" fill-opacity="1"/>
<rect x="241.93" y="328.80" width="12.80" height="2.40" rx="1.20" fill="#000" fill-opacity="0.6"/>
<rect x="255.61" y="328.20" width="13.80" height="3.60" rx="1.80" fill="#000" fill-opacity="0.95"/>
<rect x="256.11" y="328.80" width="12.80" height="2.40" rx="1.20" fill="#000" fill-opacity="0.57"/>
</g>
<rect x="278.00" y="322.20" width="70.30" height="14.80" fill="#e5e5e5" />
<g filter="url(#b1)" clip-path="none">
<rect x="278.13" y="328.20" width="13.80" height="3.60" rx="1.80" fill="#000" fill-opacity="0.95"/>
<rect x="278.63" y="328.80" width="12.80" height="2.40" rx="1.20" fill="#000" fill-opacity="0.57"/>
<rect x="292.19" y="328.20" width="13.80" height="3.60" rx="1.80" fill="#000" fill-opacity="1"/>
<rect x="292.69" y="328.80" width="12.80" height="2.40" rx="1.20" fill="#000" fill-opacity="0.6"/>
<rect x="306.25" y="328.20" width="13.80" height="3.60" rx="1.80" fill="#000" fill-opacity="0.95"/>
<rect x="306.75" y="328.80" width="12.80" height="2.40" rx="1.20" fill="#000" fill-opacity="0.57"/>
<rect x="320.31" y="328.20" width="13.80" height="3.60" rx="1.80" fill="#000" fill-opacity="0.95"/>
<rect x="320.81" y="328.80" width="12.80" height="2.40" rx="1.20" fill="#000" fill-opacity="0.57"/>
<rect x="334.37" y="328.20" width="13.80" height="3.60" rx="1.80" fill="#000" fill-opacity="1"/>
<rect x="334.87" y="328.80" width="12.80" height="2.40" rx="1.20" fill="#000" fill-opacity="0.6"/>
</g>
<line x1="61.30" y1="357.50" x2="61.30" y2="447.00" stroke="#111" stroke-width="1.4"/>
<line x1="60.60" y1="446.30" x2="228.00" y2="446.30" stroke="#111" stroke-width="1.5"/>
<line x1="58.80" y1="446.30" x2="61.30" y2="446.30" stroke="#111" stroke-width="1"/>
<text transform="translate(57.80 449.59) scale(0.93 1)" font-size="9.2" text-anchor="end">0</text>
<line x1="58.80" y1="417.05" x2="61.30" y2="417.05" stroke="#111" stroke-width="1"/>
<text transform="translate(57.80 420.34) scale(0.93 1)" font-size="9.2" text-anchor="end">50</text>
<line x1="58.80" y1="387.80" x2="61.30" y2="387.80" stroke="#111" stroke-width="1"/>
<text transform="translate(57.80 391.09) scale(0.93 1)" font-size="9.2" text-anchor="end">100</text>
<line x1="58.80" y1="358.55" x2="61.30" y2="358.55" stroke="#111" stroke-width="1"/>
<text transform="translate(57.80 361.84) scale(0.93 1)" font-size="9.2" text-anchor="end">150</text>
<text transform="translate(37.11 401.20) rotate(-90) scale(0.97 1)" font-size="9.8" text-anchor="middle">Signal (A.U.)</text>
<text transform="translate(141.80 360.09)" font-size="10.6" text-anchor="middle" font-weight="bold" style="fill:#000">CBL-b</text>
<rect x="62.80" y="393.65" width="7.40" height="52.65" fill="#fff" stroke="#0a0a0a" stroke-width="1.35" />
<line x1="66.50" y1="393.65" x2="66.50" y2="390.73" stroke="#111" stroke-width="1.3"/>
<line x1="64.40" y1="390.73" x2="68.60" y2="390.73" stroke="#111" stroke-width="1.3"/>
<rect x="73.20" y="398.33" width="7.10" height="47.97" fill="#fff" stroke="#0a0a0a" stroke-width="1.35" />
<line x1="76.75" y1="398.33" x2="76.75" y2="394.82" stroke="#111" stroke-width="1.3"/>
<line x1="74.65" y1="394.82" x2="78.85" y2="394.82" stroke="#111" stroke-width="1.3"/>
<rect x="82.90" y="417.34" width="7.00" height="28.96" fill="#fff" stroke="#0a0a0a" stroke-width="1.35" />
<line x1="86.40" y1="417.34" x2="86.40" y2="413.83" stroke="#111" stroke-width="1.3"/>
<line x1="84.30" y1="413.83" x2="88.50" y2="413.83" stroke="#111" stroke-width="1.3"/>
<rect x="92.40" y="421.15" width="7.00" height="25.15" fill="#fff" stroke="#0a0a0a" stroke-width="1.35" />
<line x1="95.90" y1="421.15" x2="95.90" y2="412.96" stroke="#111" stroke-width="1.3"/>
<line x1="93.80" y1="412.96" x2="98.00" y2="412.96" stroke="#111" stroke-width="1.3"/>
<rect x="101.90" y="375.69" width="7.00" height="70.61" fill="#fff" stroke="#0a0a0a" stroke-width="1.35" />
<rect x="120.50" y="411.79" width="7.50" height="34.51" fill="#666" stroke="#0a0a0a" stroke-width="1.35" />
<line x1="124.25" y1="411.79" x2="124.25" y2="407.69" stroke="#111" stroke-width="1.3"/>
<line x1="122.15" y1="407.69" x2="126.35" y2="407.69" stroke="#111" stroke-width="1.3"/>
<rect x="130.50" y="407.92" width="7.50" height="38.38" fill="#666" stroke="#0a0a0a" stroke-width="1.35" />
<line x1="134.25" y1="407.92" x2="134.25" y2="403.24" stroke="#111" stroke-width="1.3"/>
<line x1="132.15" y1="403.24" x2="136.35" y2="403.24" stroke="#111" stroke-width="1.3"/>
<rect x="140.50" y="435.42" width="7.00" height="10.88" fill="#666" stroke="#0a0a0a" stroke-width="1.35" />
<line x1="144.00" y1="435.42" x2="144.00" y2="431.91" stroke="#111" stroke-width="1.3"/>
<line x1="141.90" y1="431.91" x2="146.10" y2="431.91" stroke="#111" stroke-width="1.3"/>
<rect x="150.00" y="427.58" width="7.50" height="18.72" fill="#666" stroke="#0a0a0a" stroke-width="1.35" />
<line x1="153.75" y1="427.58" x2="153.75" y2="424.07" stroke="#111" stroke-width="1.3"/>
<line x1="151.65" y1="424.07" x2="155.85" y2="424.07" stroke="#111" stroke-width="1.3"/>
<rect x="159.50" y="433.43" width="7.50" height="12.87" fill="#666" stroke="#0a0a0a" stroke-width="1.35" />
<line x1="163.25" y1="433.43" x2="163.25" y2="429.33" stroke="#111" stroke-width="1.3"/>
<line x1="161.15" y1="429.33" x2="165.35" y2="429.33" stroke="#111" stroke-width="1.3"/>
<rect x="179.50" y="421.15" width="6.80" height="25.15" fill="#cfcfcf" stroke="#0a0a0a" stroke-width="1.35" />
<line x1="182.90" y1="421.15" x2="182.90" y2="418.22" stroke="#111" stroke-width="1.3"/>
<line x1="180.80" y1="418.22" x2="185.00" y2="418.22" stroke="#111" stroke-width="1.3"/>
<rect x="188.80" y="416.17" width="7.50" height="30.13" fill="#cfcfcf" stroke="#0a0a0a" stroke-width="1.35" />
<line x1="192.55" y1="416.17" x2="192.55" y2="412.08" stroke="#111" stroke-width="1.3"/>
<line x1="190.45" y1="412.08" x2="194.65" y2="412.08" stroke="#111" stroke-width="1.3"/>
<rect x="198.80" y="437.53" width="7.00" height="8.77" fill="#cfcfcf" stroke="#0a0a0a" stroke-width="1.35" />
<line x1="202.30" y1="437.53" x2="202.30" y2="432.85" stroke="#111" stroke-width="1.3"/>
<line x1="200.20" y1="432.85" x2="204.40" y2="432.85" stroke="#111" stroke-width="1.3"/>
<rect x="208.00" y="426.64" width="7.50" height="19.66" fill="#cfcfcf" stroke="#0a0a0a" stroke-width="1.35" />
<line x1="211.75" y1="426.64" x2="211.75" y2="423.13" stroke="#111" stroke-width="1.3"/>
<line x1="209.65" y1="423.13" x2="213.85" y2="423.13" stroke="#111" stroke-width="1.3"/>
<rect x="218.00" y="433.43" width="7.00" height="12.87" fill="#cfcfcf" stroke="#0a0a0a" stroke-width="1.35" />
<line x1="221.50" y1="433.43" x2="221.50" y2="429.92" stroke="#111" stroke-width="1.3"/>
<line x1="219.40" y1="429.92" x2="223.60" y2="429.92" stroke="#111" stroke-width="1.3"/>
<text transform="translate(64.00 459.09) scale(0.93 1)" font-size="9.2" text-anchor="middle">0</text>
<text transform="translate(73.70 459.09) scale(0.93 1)" font-size="9.2" text-anchor="middle">2</text>
<text transform="translate(83.30 459.09) scale(0.93 1)" font-size="9.2" text-anchor="middle">4</text>
<text transform="translate(93.20 459.09) scale(0.93 1)" font-size="9.2" text-anchor="middle">6</text>
<text transform="translate(102.70 459.09) scale(0.93 1)" font-size="9.2" text-anchor="middle">8</text>
<text transform="translate(121.30 459.09) scale(0.93 1)" font-size="9.2" text-anchor="middle">0</text>
<text transform="translate(131.30 459.09) scale(0.93 1)" font-size="9.2" text-anchor="middle">2</text>
<text transform="translate(142.00 459.09) scale(0.93 1)" font-size="9.2" text-anchor="middle">4</text>
<text transform="translate(152.00 459.09) scale(0.93 1)" font-size="9.2" text-anchor="middle">6</text>
<text transform="translate(162.00 459.09) scale(0.93 1)" font-size="9.2" text-anchor="middle">8</text>
<text transform="translate(180.80 459.09) scale(0.93 1)" font-size="9.2" text-anchor="middle">0</text>
<text transform="translate(190.60 459.09) scale(0.93 1)" font-size="9.2" text-anchor="middle">2</text>
<text transform="translate(200.80 459.09) scale(0.93 1)" font-size="9.2" text-anchor="middle">4</text>
<text transform="translate(210.80 459.09) scale(0.93 1)" font-size="9.2" text-anchor="middle">6</text>
<text transform="translate(220.80 459.09) scale(0.93 1)" font-size="9.2" text-anchor="middle">8</text>
<line x1="60.70" y1="463.80" x2="108.30" y2="463.80" stroke="#555" stroke-width="1"/>
<line x1="118.80" y1="463.80" x2="167.00" y2="463.80" stroke="#555" stroke-width="1"/>
<line x1="177.00" y1="463.80" x2="226.00" y2="463.80" stroke="#555" stroke-width="1"/>
<text transform="translate(85.50 476.54) scale(0.98 1)" font-size="11" text-anchor="middle">Jurkat</text>
<text transform="translate(145.00 476.54) scale(0.98 1)" font-size="11" text-anchor="middle">rHAp85α</text>
<text transform="translate(203.00 476.54) scale(0.98 1)" font-size="11" text-anchor="middle">rHAp85β</text>
<line x1="85.40" y1="370.80" x2="195.00" y2="370.80" stroke="#8a8a8a" stroke-width="0.9"/>
<line x1="85.40" y1="385.80" x2="137.00" y2="385.80" stroke="#8a8a8a" stroke-width="0.9"/>
<line x1="85.40" y1="370.80" x2="85.40" y2="384.20" stroke="#8a8a8a" stroke-width="0.8"/>
<polygon points="85.40,384.80 83.86,380.90 86.94,380.90" fill="#8a8a8a"/>
<line x1="85.40" y1="385.80" x2="85.40" y2="399.00" stroke="#8a8a8a" stroke-width="0.8"/>
<polygon points="85.40,399.60 83.86,395.70 86.94,395.70" fill="#8a8a8a"/>
<text transform="translate(198.80 374.14) scale(0.9 1)" font-size="8.2" text-anchor="middle" style="fill:#444">(*)</text>
<text transform="translate(140.80 389.14) scale(0.9 1)" font-size="8.2" text-anchor="middle" style="fill:#444">(*)</text>
<line x1="201.30" y1="374.00" x2="201.30" y2="420.00" stroke="#8a8a8a" stroke-width="0.8"/>
<polygon points="201.30,420.60 199.76,416.70 202.84,416.70" fill="#8a8a8a"/>
<line x1="143.30" y1="389.00" x2="143.30" y2="419.00" stroke="#8a8a8a" stroke-width="0.8"/>
<polygon points="143.30,419.60 141.76,415.70 144.84,415.70" fill="#8a8a8a"/>
<line x1="253.00" y1="357.50" x2="253.00" y2="447.50" stroke="#111" stroke-width="1.4"/>
<line x1="252.30" y1="446.80" x2="423.50" y2="446.80" stroke="#111" stroke-width="1.5"/>
<text transform="translate(251.40 449.37) scale(0.93 1)" font-size="9.4" text-anchor="end">0</text>
<text transform="translate(251.40 419.37) scale(0.93 1)" font-size="9.4" text-anchor="end">50</text>
<text transform="translate(251.40 389.37) scale(0.93 1)" font-size="9.4" text-anchor="end">100</text>
<text transform="translate(251.40 359.37) scale(0.93 1)" font-size="9.4" text-anchor="end">150</text>
<text transform="translate(338.00 359.59)" font-size="10.6" text-anchor="middle" font-weight="bold" style="fill:#000">c-CBL</text>
<rect x="254.30" y="395.20" width="7.70" height="51.60" fill="#fff" stroke="#0a0a0a" stroke-width="1.35" />
<line x1="258.15" y1="395.20" x2="258.15" y2="388.00" stroke="#111" stroke-width="1.3"/>
<line x1="256.05" y1="388.00" x2="260.25" y2="388.00" stroke="#111" stroke-width="1.3"/>
<rect x="264.30" y="391.84" width="7.70" height="54.96" fill="#fff" stroke="#0a0a0a" stroke-width="1.35" />
<line x1="268.15" y1="391.84" x2="268.15" y2="383.44" stroke="#111" stroke-width="1.3"/>
<line x1="266.05" y1="383.44" x2="270.25" y2="383.44" stroke="#111" stroke-width="1.3"/>
<rect x="274.30" y="424.30" width="7.50" height="22.50" fill="#fff" stroke="#0a0a0a" stroke-width="1.35" />
<line x1="278.05" y1="424.30" x2="278.05" y2="414.70" stroke="#111" stroke-width="1.3"/>
<line x1="275.95" y1="414.70" x2="280.15" y2="414.70" stroke="#111" stroke-width="1.3"/>
<rect x="284.30" y="410.80" width="7.50" height="36.00" fill="#fff" stroke="#0a0a0a" stroke-width="1.35" />
<line x1="288.05" y1="410.80" x2="288.05" y2="404.20" stroke="#111" stroke-width="1.3"/>
<line x1="285.95" y1="404.20" x2="290.15" y2="404.20" stroke="#111" stroke-width="1.3"/>
<rect x="294.30" y="374.80" width="7.70" height="72.00" fill="#fff" stroke="#0a0a0a" stroke-width="1.35" />
<line x1="298.15" y1="374.80" x2="298.15" y2="367.60" stroke="#111" stroke-width="1.3"/>
<line x1="296.05" y1="367.60" x2="300.25" y2="367.60" stroke="#111" stroke-width="1.3"/>
<rect x="314.30" y="391.00" width="7.50" height="55.80" fill="#666" stroke="#0a0a0a" stroke-width="1.35" />
<line x1="318.05" y1="391.00" x2="318.05" y2="383.50" stroke="#111" stroke-width="1.3"/>
<line x1="315.95" y1="383.50" x2="320.15" y2="383.50" stroke="#111" stroke-width="1.3"/>
<rect x="324.30" y="377.80" width="7.50" height="69.00" fill="#666" stroke="#0a0a0a" stroke-width="1.35" />
<line x1="328.05" y1="377.80" x2="328.05" y2="370.00" stroke="#111" stroke-width="1.3"/>
<line x1="325.95" y1="370.00" x2="330.15" y2="370.00" stroke="#111" stroke-width="1.3"/>
<rect x="333.80" y="397.78" width="8.00" height="49.02" fill="#666" stroke="#0a0a0a" stroke-width="1.35" />
<line x1="337.80" y1="397.78" x2="337.80" y2="389.08" stroke="#111" stroke-width="1.3"/>
<line x1="335.70" y1="389.08" x2="339.90" y2="389.08" stroke="#111" stroke-width="1.3"/>
<rect x="343.80" y="424.00" width="8.00" height="22.80" fill="#666" stroke="#0a0a0a" stroke-width="1.35" />
<line x1="347.80" y1="424.00" x2="347.80" y2="419.20" stroke="#111" stroke-width="1.3"/>
<line x1="345.70" y1="419.20" x2="349.90" y2="419.20" stroke="#111" stroke-width="1.3"/>
<rect x="354.30" y="404.20" width="7.50" height="42.60" fill="#666" stroke="#0a0a0a" stroke-width="1.35" />
<line x1="358.05" y1="404.20" x2="358.05" y2="398.20" stroke="#111" stroke-width="1.3"/>
<line x1="355.95" y1="398.20" x2="360.15" y2="398.20" stroke="#111" stroke-width="1.3"/>
<rect x="373.60" y="400.18" width="7.90" height="46.62" fill="#cfcfcf" stroke="#0a0a0a" stroke-width="1.35" />
<line x1="377.55" y1="400.18" x2="377.55" y2="391.18" stroke="#111" stroke-width="1.3"/>
<line x1="375.45" y1="391.18" x2="379.65" y2="391.18" stroke="#111" stroke-width="1.3"/>
<rect x="384.00" y="407.20" width="7.20" height="39.60" fill="#cfcfcf" stroke="#0a0a0a" stroke-width="1.35" />
<line x1="387.60" y1="407.20" x2="387.60" y2="398.80" stroke="#111" stroke-width="1.3"/>
<line x1="385.50" y1="398.80" x2="389.70" y2="398.80" stroke="#111" stroke-width="1.3"/>
<rect x="393.70" y="397.60" width="7.90" height="49.20" fill="#cfcfcf" stroke="#0a0a0a" stroke-width="1.35" />
<line x1="397.65" y1="397.60" x2="397.65" y2="389.80" stroke="#111" stroke-width="1.3"/>
<line x1="395.55" y1="389.80" x2="399.75" y2="389.80" stroke="#111" stroke-width="1.3"/>
<rect x="404.00" y="426.16" width="7.70" height="20.64" fill="#cfcfcf" stroke="#0a0a0a" stroke-width="1.35" />
<line x1="407.85" y1="426.16" x2="407.85" y2="420.16" stroke="#111" stroke-width="1.3"/>
<line x1="405.75" y1="420.16" x2="409.95" y2="420.16" stroke="#111" stroke-width="1.3"/>
<rect x="413.70" y="398.50" width="8.30" height="48.30" fill="#cfcfcf" stroke="#0a0a0a" stroke-width="1.35" />
<line x1="417.85" y1="398.50" x2="417.85" y2="392.50" stroke="#111" stroke-width="1.3"/>
<line x1="415.75" y1="392.50" x2="419.95" y2="392.50" stroke="#111" stroke-width="1.3"/>
<text transform="translate(259.30 458.79) scale(0.93 1)" font-size="9.2" text-anchor="middle">0</text>
<text transform="translate(268.80 458.79) scale(0.93 1)" font-size="9.2" text-anchor="middle">2</text>
<text transform="translate(278.30 458.79) scale(0.93 1)" font-size="9.2" text-anchor="middle">4</text>
<text transform="translate(288.00 458.79) scale(0.93 1)" font-size="9.2" text-anchor="middle">6</text>
<text transform="translate(297.50 458.79) scale(0.93 1)" font-size="9.2" text-anchor="middle">8</text>
<text transform="translate(316.80 458.79) scale(0.93 1)" font-size="9.2" text-anchor="middle">0</text>
<text transform="translate(326.80 458.79) scale(0.93 1)" font-size="9.2" text-anchor="middle">2</text>
<text transform="translate(337.50 458.79) scale(0.93 1)" font-size="9.2" text-anchor="middle">4</text>
<text transform="translate(347.50 458.79) scale(0.93 1)" font-size="9.2" text-anchor="middle">6</text>
<text transform="translate(357.00 458.79) scale(0.93 1)" font-size="9.2" text-anchor="middle">8</text>
<text transform="translate(375.70 458.79) scale(0.93 1)" font-size="9.2" text-anchor="middle">0</text>
<text transform="translate(386.70 458.79) scale(0.93 1)" font-size="9.2" text-anchor="middle">2</text>
<text transform="translate(397.00 458.79) scale(0.93 1)" font-size="9.2" text-anchor="middle">4</text>
<text transform="translate(408.50 458.79) scale(0.93 1)" font-size="9.2" text-anchor="middle">6</text>
<text transform="translate(419.60 458.79) scale(0.93 1)" font-size="9.2" text-anchor="middle">8</text>
<line x1="255.00" y1="463.30" x2="303.80" y2="463.30" stroke="#555" stroke-width="1"/>
<line x1="313.00" y1="463.30" x2="363.00" y2="463.30" stroke="#555" stroke-width="1"/>
<line x1="372.00" y1="463.30" x2="423.00" y2="463.30" stroke="#555" stroke-width="1"/>
<text transform="translate(278.50 476.34) scale(0.98 1)" font-size="11" text-anchor="middle">Jurkat</text>
<text transform="translate(338.00 476.34) scale(0.98 1)" font-size="11" text-anchor="middle">rHAp85α</text>
<text transform="translate(397.50 476.34) scale(0.98 1)" font-size="11" text-anchor="middle">rHAp85β</text>
<line x1="298.00" y1="362.60" x2="413.00" y2="362.60" stroke="#8a8a8a" stroke-width="0.9"/>
<line x1="298.00" y1="362.60" x2="298.00" y2="366.50" stroke="#8a8a8a" stroke-width="0.8"/>
<polygon points="298.00,367.10 296.74,363.80 299.26,363.80" fill="#8a8a8a"/>
<text transform="translate(357.30 368.88) scale(0.9 1)" font-size="8.6" text-anchor="middle" style="fill:#444">(*)</text>
<text transform="translate(415.50 368.88) scale(0.9 1)" font-size="8.6" text-anchor="middle" style="fill:#444">(*)</text>
<line x1="357.30" y1="370.50" x2="357.30" y2="395.00" stroke="#8a8a8a" stroke-width="0.8"/>
<polygon points="357.30,395.60 355.76,391.70 358.84,391.70" fill="#8a8a8a"/>
<line x1="415.50" y1="370.50" x2="415.50" y2="389.50" stroke="#8a8a8a" stroke-width="0.8"/>
<polygon points="415.50,390.10 413.96,386.20 417.04,386.20" fill="#8a8a8a"/>
<rect x="432.80" y="381.30" width="54.20" height="41.60" fill="#fff" stroke="#222" stroke-width="1" />
<rect x="435.20" y="385.80" width="6.20" height="6.40" fill="#fff" stroke="#111" stroke-width="1" />
<text transform="translate(445.50 392.89) scale(0.95 1)" font-size="10.3">Jurkat</text>
<rect x="435.20" y="398.30" width="6.20" height="6.40" fill="#cfcfcf" stroke="#111" stroke-width="1" />
<text transform="translate(445.50 405.39) scale(0.95 1)" font-size="10.3">+ rp85α</text>
<rect x="435.20" y="412.10" width="6.20" height="6.40" fill="#666" stroke="#111" stroke-width="1" />
<text transform="translate(445.50 419.19) scale(0.95 1)" font-size="10.3">+ rp85β</text>
<text transform="translate(433.00 436.50)" font-size="9.4" font-style="italic" style='font-family:"Liberation Serif", serif'>n = 3</text>
<text transform="translate(429.00 458.57) scale(0.93 1)" font-size="9.4">Time (h)</text>
<text transform="translate(429.00 470.37) scale(0.93 1)" font-size="9.4">CD3+CD28</text>
<text transform="translate(6.50 521.50)" font-size="17.5" font-weight="bold" style="fill:#000">D</text>
<line x1="23.20" y1="581.50" x2="23.20" y2="729.30" stroke="#111" stroke-width="1.4"/>
<line x1="22.50" y1="728.60" x2="105.00" y2="728.60" stroke="#111" stroke-width="1.4"/>
<line x1="21.40" y1="728.60" x2="23.20" y2="728.60" stroke="#111" stroke-width="1"/>
<line x1="21.80" y1="710.34" x2="23.20" y2="710.34" stroke="#111" stroke-width="1"/>
<line x1="21.40" y1="692.08" x2="23.20" y2="692.08" stroke="#111" stroke-width="1"/>
<line x1="21.80" y1="673.82" x2="23.20" y2="673.82" stroke="#111" stroke-width="1"/>
<line x1="21.40" y1="655.56" x2="23.20" y2="655.56" stroke="#111" stroke-width="1"/>
<line x1="21.80" y1="637.30" x2="23.20" y2="637.30" stroke="#111" stroke-width="1"/>
<line x1="21.40" y1="619.04" x2="23.20" y2="619.04" stroke="#111" stroke-width="1"/>
<line x1="21.80" y1="600.78" x2="23.20" y2="600.78" stroke="#111" stroke-width="1"/>
<line x1="21.40" y1="582.52" x2="23.20" y2="582.52" stroke="#111" stroke-width="1"/>
<text transform="translate(19.80 732.32) scale(0.87 1)" font-size="10.4" text-anchor="end">0</text>
<text transform="translate(19.80 695.80) scale(0.87 1)" font-size="10.4" text-anchor="end">4</text>
<text transform="translate(19.80 659.28) scale(0.87 1)" font-size="10.4" text-anchor="end">8</text>
<text transform="translate(19.80 622.76) scale(0.87 1)" font-size="10.4" text-anchor="end">12</text>
<text transform="translate(19.80 586.24) scale(0.87 1)" font-size="10.4" text-anchor="end">16</text>
<line x1="30.80" y1="728.60" x2="30.80" y2="732.10" stroke="#111" stroke-width="1"/>
<text transform="translate(30.80 740.31) scale(0.93 1)" font-size="9.8" text-anchor="middle">0</text>
<line x1="47.56" y1="728.60" x2="47.56" y2="732.10" stroke="#111" stroke-width="1"/>
<text transform="translate(47.56 740.31) scale(0.93 1)" font-size="9.8" text-anchor="middle">2</text>
<line x1="64.32" y1="728.60" x2="64.32" y2="732.10" stroke="#111" stroke-width="1"/>
<text transform="translate(64.32 740.31) scale(0.93 1)" font-size="9.8" text-anchor="middle">4</text>
<line x1="81.08" y1="728.60" x2="81.08" y2="732.10" stroke="#111" stroke-width="1"/>
<text transform="translate(81.08 740.31) scale(0.93 1)" font-size="9.8" text-anchor="middle">6</text>
<line x1="97.84" y1="728.60" x2="97.84" y2="732.10" stroke="#111" stroke-width="1"/>
<text transform="translate(97.84 740.31) scale(0.93 1)" font-size="9.8" text-anchor="middle">8</text>
<text transform="translate(90.30 752.18) scale(0.93 1)" font-size="10" text-anchor="middle">Time (h),</text>
<text transform="translate(88.50 765.58) scale(0.93 1)" font-size="10" text-anchor="middle">CD3+CD28</text>
<text transform="translate(6.94 653.20) rotate(-90) scale(1.04 1)" font-size="9.9" text-anchor="middle">% TCR Downregulation</text>
<line x1="70.20" y1="623.00" x2="70.20" y2="684.50" stroke="#8a8a8a" stroke-width="0.8"/>
<polygon points="70.20,685.10 68.66,681.20 71.74,681.20" fill="#8a8a8a"/>
<line x1="80.60" y1="612.00" x2="80.60" y2="689.00" stroke="#8a8a8a" stroke-width="0.8"/>
<polygon points="80.60,689.60 79.06,685.70 82.14,685.70" fill="#8a8a8a"/>
<polyline points="30.80,727.69 47.56,680.21 64.32,684.78 81.08,695.73 97.84,728.60" fill="none" stroke="#111" stroke-width="1.5" stroke-linejoin="round" stroke-dasharray="2.4 1.6"/>
<polyline points="30.80,727.69 47.56,649.17 64.32,643.69 81.08,611.74 97.84,653.73" fill="none" stroke="#111" stroke-width="1.6" stroke-linejoin="round" stroke-dasharray="5 1.8 1.5 1.8"/>
<polyline points="30.80,727.69 47.56,669.25 64.32,630.91 81.08,604.43 97.84,587.09" fill="none" stroke="#111" stroke-width="1.7" stroke-linejoin="round"/>
<line x1="47.56" y1="671.08" x2="47.56" y2="689.34" stroke="#111" stroke-width="1.1"/>
<line x1="45.96" y1="671.08" x2="49.16" y2="671.08" stroke="#111" stroke-width="1.1"/>
<line x1="45.96" y1="689.34" x2="49.16" y2="689.34" stroke="#111" stroke-width="1.1"/>
<line x1="64.32" y1="673.82" x2="64.32" y2="695.73" stroke="#111" stroke-width="1.1"/>
<line x1="62.72" y1="673.82" x2="65.92" y2="673.82" stroke="#111" stroke-width="1.1"/>
<line x1="62.72" y1="695.73" x2="65.92" y2="695.73" stroke="#111" stroke-width="1.1"/>
<line x1="81.08" y1="684.78" x2="81.08" y2="706.69" stroke="#111" stroke-width="1.1"/>
<line x1="79.48" y1="684.78" x2="82.68" y2="684.78" stroke="#111" stroke-width="1.1"/>
<line x1="79.48" y1="706.69" x2="82.68" y2="706.69" stroke="#111" stroke-width="1.1"/>
<line x1="97.84" y1="709.43" x2="97.84" y2="728.60" stroke="#111" stroke-width="1.1"/>
<line x1="96.24" y1="709.43" x2="99.44" y2="709.43" stroke="#111" stroke-width="1.1"/>
<line x1="47.56" y1="640.04" x2="47.56" y2="658.30" stroke="#111" stroke-width="1.1"/>
<line x1="45.96" y1="640.04" x2="49.16" y2="640.04" stroke="#111" stroke-width="1.1"/>
<line x1="45.96" y1="658.30" x2="49.16" y2="658.30" stroke="#111" stroke-width="1.1"/>
<line x1="64.32" y1="632.74" x2="64.32" y2="654.65" stroke="#111" stroke-width="1.1"/>
<line x1="62.72" y1="632.74" x2="65.92" y2="632.74" stroke="#111" stroke-width="1.1"/>
<line x1="62.72" y1="654.65" x2="65.92" y2="654.65" stroke="#111" stroke-width="1.1"/>
<line x1="81.08" y1="599.87" x2="81.08" y2="623.61" stroke="#111" stroke-width="1.1"/>
<line x1="79.48" y1="599.87" x2="82.68" y2="599.87" stroke="#111" stroke-width="1.1"/>
<line x1="79.48" y1="623.61" x2="82.68" y2="623.61" stroke="#111" stroke-width="1.1"/>
<line x1="97.84" y1="647.34" x2="97.84" y2="660.12" stroke="#111" stroke-width="1.1"/>
<line x1="96.24" y1="647.34" x2="99.44" y2="647.34" stroke="#111" stroke-width="1.1"/>
<line x1="96.24" y1="660.12" x2="99.44" y2="660.12" stroke="#111" stroke-width="1.1"/>
<line x1="47.56" y1="661.95" x2="47.56" y2="676.56" stroke="#111" stroke-width="1.1"/>
<line x1="45.96" y1="661.95" x2="49.16" y2="661.95" stroke="#111" stroke-width="1.1"/>
<line x1="45.96" y1="676.56" x2="49.16" y2="676.56" stroke="#111" stroke-width="1.1"/>
<line x1="64.32" y1="621.78" x2="64.32" y2="640.04" stroke="#111" stroke-width="1.1"/>
<line x1="62.72" y1="621.78" x2="65.92" y2="621.78" stroke="#111" stroke-width="1.1"/>
<line x1="62.72" y1="640.04" x2="65.92" y2="640.04" stroke="#111" stroke-width="1.1"/>
<line x1="81.08" y1="591.65" x2="81.08" y2="617.21" stroke="#111" stroke-width="1.1"/>
<line x1="79.48" y1="591.65" x2="82.68" y2="591.65" stroke="#111" stroke-width="1.1"/>
<line x1="79.48" y1="617.21" x2="82.68" y2="617.21" stroke="#111" stroke-width="1.1"/>
<line x1="97.84" y1="578.87" x2="97.84" y2="595.30" stroke="#111" stroke-width="1.1"/>
<line x1="96.24" y1="578.87" x2="99.44" y2="578.87" stroke="#111" stroke-width="1.1"/>
<line x1="96.24" y1="595.30" x2="99.44" y2="595.30" stroke="#111" stroke-width="1.1"/>
<polygon points="30.80,723.89 33.84,727.69 30.80,731.49 27.76,727.69" fill="#fff" stroke="#111" stroke-width="1.1"/>
<polygon points="47.56,676.41 50.60,680.21 47.56,684.01 44.52,680.21" fill="#fff" stroke="#111" stroke-width="1.1"/>
<polygon points="64.32,680.98 67.36,684.78 64.32,688.58 61.28,684.78" fill="#fff" stroke="#111" stroke-width="1.1"/>
<polygon points="81.08,691.93 84.12,695.73 81.08,699.53 78.04,695.73" fill="#fff" stroke="#111" stroke-width="1.1"/>
<polygon points="97.84,724.80 100.88,728.60 97.84,732.40 94.80,728.60" fill="#fff" stroke="#111" stroke-width="1.1"/>
<rect x="44.66" y="645.57" width="5.80" height="7.20" fill="#bdbdbd" stroke="#333" stroke-width="1" />
<rect x="61.42" y="640.09" width="5.80" height="7.20" fill="#bdbdbd" stroke="#333" stroke-width="1" />
<rect x="78.18" y="608.14" width="5.80" height="7.20" fill="#bdbdbd" stroke="#333" stroke-width="1" />
<rect x="94.94" y="650.13" width="5.80" height="7.20" fill="#bdbdbd" stroke="#333" stroke-width="1" />
<ellipse cx="47.56" cy="669.25" rx="3.0" ry="3.7" fill="#666" stroke="#111" stroke-width="1" />
<ellipse cx="64.32" cy="630.91" rx="3.0" ry="3.7" fill="#666" stroke="#111" stroke-width="1" />
<ellipse cx="81.08" cy="604.43" rx="3.0" ry="3.7" fill="#666" stroke="#111" stroke-width="1" />
<ellipse cx="97.84" cy="587.09" rx="3.0" ry="3.7" fill="#666" stroke="#111" stroke-width="1" />
<polygon points="30.80,723.89 33.84,727.69 30.80,731.49 27.76,727.69" fill="#fff" stroke="#111" stroke-width="1.1"/>
<text transform="translate(75.00 664.09) scale(0.9 1)" font-size="7.8" text-anchor="middle" style="fill:#333">(*)</text>
<text transform="translate(84.80 664.09) scale(0.9 1)" font-size="7.8" text-anchor="middle" style="fill:#333">(*)</text>
<text transform="translate(104.60 590.79) scale(0.97 1)" font-size="10.6">rHAp85β</text>
<text transform="translate(105.30 655.59) scale(0.97 1)" font-size="10.6">rHAp85α</text>
<text transform="translate(105.30 725.79) scale(0.97 1)" font-size="10.6">Control</text>
<text transform="translate(47.00 584.80)" font-size="9.4" font-style="italic" style='font-family:"Liberation Serif", serif'>n = 3</text>
<rect x="40.00" y="535.30" width="59.00" height="39.70" fill="#fff" stroke="#222" stroke-width="1" />
<polygon points="46.80,540.00 49.44,543.30 46.80,546.60 44.16,543.30" fill="#fff" stroke="#111" stroke-width="1.1"/>
<text transform="translate(54.80 547.09) scale(0.97 1)" font-size="10.6">Control</text>
<rect x="44.20" y="552.30" width="5.40" height="6.40" fill="#bdbdbd" stroke="#333" stroke-width="1" />
<text transform="translate(54.80 559.29) scale(0.97 1)" font-size="10.6">rHAp85α</text>
<ellipse cx="46.80" cy="567.20" rx="2.7" ry="3.1" fill="#666" stroke="#111" stroke-width="1" />
<text transform="translate(54.80 570.99) scale(0.97 1)" font-size="10.6">rHAp85β</text>
<text transform="translate(158.30 521.00)" font-size="17.5" font-weight="bold" style="fill:#000">E</text>
<text transform="translate(254.60 538.61) scale(0.97 1)" font-size="11.2" text-anchor="middle">Primary Response</text>
<line x1="169.00" y1="542.40" x2="339.00" y2="542.40" stroke="#666" stroke-width="1.2"/>
<text transform="translate(207.50 555.57) scale(0.97 1)" font-size="11.1" text-anchor="middle">p85β</text>
<text transform="translate(220.50 549.00) scale(0.9 1)" font-size="5.4">+/-</text>
<text transform="translate(299.00 555.57) scale(0.97 1)" font-size="11.1" text-anchor="middle">p85β</text>
<text transform="translate(312.00 549.00) scale(0.9 1)" font-size="5.4">-/-</text>
<line x1="169.00" y1="559.20" x2="247.40" y2="559.20" stroke="#666" stroke-width="1.1"/>
<line x1="260.60" y1="559.20" x2="339.00" y2="559.20" stroke="#666" stroke-width="1.1"/>
<text transform="translate(176.30 571.84) scale(0.97 1)" font-size="9.6" text-anchor="middle">0</text>
<text transform="translate(197.00 571.84) scale(0.97 1)" font-size="9.6" text-anchor="middle">15</text>
<text transform="translate(217.80 571.84) scale(0.97 1)" font-size="9.6" text-anchor="middle">30</text>
<text transform="translate(239.50 571.84) scale(0.97 1)" font-size="9.6" text-anchor="middle">60</text>
<text transform="translate(267.00 571.84) scale(0.97 1)" font-size="9.6" text-anchor="middle">0</text>
<text transform="translate(288.60 571.84) scale(0.97 1)" font-size="9.6" text-anchor="middle">15</text>
<text transform="translate(308.40 571.84) scale(0.97 1)" font-size="9.6" text-anchor="middle">30</text>
<text transform="translate(330.60 571.84) scale(0.97 1)" font-size="9.6" text-anchor="middle">60</text>
<text transform="translate(344.30 571.69) scale(0.97 1)" font-size="9.2">Time (min)</text>
<text transform="translate(343.00 584.34) scale(0.95 1)" font-size="9.9">P-PKB</text>
<text transform="translate(343.00 603.74) scale(0.95 1)" font-size="9.9">PKB</text>
<text transform="translate(343.00 633.14) scale(0.95 1)" font-size="9.9">P-p38</text>
<text transform="translate(343.00 654.14) scale(0.95 1)" font-size="9.9">p38</text>
<text transform="translate(343.00 683.34) scale(0.95 1)" font-size="9.9">P-p44/42</text>
<text transform="translate(343.00 703.84) scale(0.95 1)" font-size="9.9">p44/42</text>
<text transform="translate(343.00 732.54) scale(0.95 1)" font-size="9.9">P-PKC</text>
<text transform="translate(343.00 752.34) scale(0.95 1)" font-size="9.9">PKC</text>
<rect x="169.00" y="573.80" width="78.50" height="16.20" fill="#eeeeee" />
<g filter="url(#b1)" clip-path="none">
<rect x="172.31" y="580.60" width="13.00" height="2.80" rx="1.40" fill="#000" fill-opacity="0.16"/>
<rect x="191.44" y="580.40" width="14.00" height="3.20" rx="1.60" fill="#000" fill-opacity="0.45"/>
<rect x="211.06" y="580.40" width="14.00" height="3.20" rx="1.60" fill="#000" fill-opacity="0.6"/>
<rect x="213.06" y="581.10" width="10.00" height="1.80" rx="0.90" fill="#000" fill-opacity="0.4"/>
<rect x="230.89" y="580.50" width="13.60" height="3.00" rx="1.50" fill="#000" fill-opacity="0.3"/>
</g>
<rect x="260.60" y="573.80" width="78.40" height="16.20" fill="#eeeeee" />
<g filter="url(#b1)" clip-path="none">
<rect x="263.90" y="581.20" width="13.00" height="2.80" rx="1.40" fill="#000" fill-opacity="0.12"/>
<rect x="283.00" y="581.00" width="14.00" height="3.20" rx="1.60" fill="#000" fill-opacity="0.32"/>
<rect x="302.60" y="580.80" width="14.00" height="3.60" rx="1.80" fill="#000" fill-opacity="0.42"/>
<rect x="322.70" y="581.10" width="13.00" height="3.00" rx="1.50" fill="#000" fill-opacity="0.14"/>
</g>
<rect x="169.00" y="593.20" width="78.50" height="13.80" fill="#ebebeb" />
<g filter="url(#b1)" clip-path="none">
<rect x="171.41" y="598.60" width="14.80" height="3.20" rx="1.60" fill="#000" fill-opacity="0.6"/>
<rect x="191.04" y="598.60" width="14.80" height="3.20" rx="1.60" fill="#000" fill-opacity="0.62"/>
<rect x="210.66" y="598.60" width="14.80" height="3.20" rx="1.60" fill="#000" fill-opacity="0.62"/>
<rect x="230.29" y="598.60" width="14.80" height="3.20" rx="1.60" fill="#000" fill-opacity="0.58"/>
</g>
<rect x="260.60" y="593.20" width="78.40" height="13.80" fill="#ebebeb" />
<g filter="url(#b1)" clip-path="none">
<rect x="263.00" y="598.60" width="14.80" height="3.20" rx="1.60" fill="#000" fill-opacity="0.6"/>
<rect x="282.60" y="598.60" width="14.80" height="3.20" rx="1.60" fill="#000" fill-opacity="0.6"/>
<rect x="302.20" y="598.60" width="14.80" height="3.20" rx="1.60" fill="#000" fill-opacity="0.68"/>
<rect x="321.80" y="598.60" width="14.80" height="3.20" rx="1.60" fill="#000" fill-opacity="0.58"/>
</g>
<rect x="169.00" y="621.30" width="78.50" height="18.50" fill="#f1f1f1" />
<g filter="url(#b2)" clip-path="none">
<rect x="169.31" y="627.90" width="19.00" height="4.00" rx="2.00" fill="#000" fill-opacity="0.85"/>
<rect x="170.81" y="628.70" width="16.00" height="2.40" rx="1.20" fill="#000" fill-opacity="0.5"/>
<rect x="188.94" y="627.80" width="19.00" height="4.20" rx="2.10" fill="#000" fill-opacity="0.85"/>
<rect x="190.44" y="628.70" width="16.00" height="2.40" rx="1.20" fill="#000" fill-opacity="0.5"/>
<rect x="208.06" y="627.30" width="20.00" height="5.20" rx="2.60" fill="#000" fill-opacity="0.9"/>
<rect x="210.06" y="628.40" width="16.00" height="3.00" rx="1.50" fill="#000" fill-opacity="0.5"/>
<rect x="227.19" y="625.30" width="21.00" height="9.20" rx="4.60" fill="#000" fill-opacity="1"/>
<rect x="228.69" y="626.30" width="18.00" height="7.20" rx="3.60" fill="#000" fill-opacity="1"/>
</g>
<rect x="260.60" y="621.30" width="78.40" height="18.50" fill="#f1f1f1" />
<g filter="url(#b2)" clip-path="none">
<rect x="260.90" y="627.90" width="19.00" height="4.00" rx="2.00" fill="#000" fill-opacity="0.85"/>
<rect x="262.40" y="628.70" width="16.00" height="2.40" rx="1.20" fill="#000" fill-opacity="0.5"/>
<rect x="280.50" y="627.90" width="19.00" height="4.00" rx="2.00" fill="#000" fill-opacity="0.85"/>
<rect x="282.00" y="628.70" width="16.00" height="2.40" rx="1.20" fill="#000" fill-opacity="0.5"/>
<rect x="299.60" y="627.20" width="20.00" height="5.40" rx="2.70" fill="#000" fill-opacity="0.9"/>
<rect x="301.60" y="628.40" width="16.00" height="3.00" rx="1.50" fill="#000" fill-opacity="0.5"/>
<rect x="319.20" y="626.90" width="20.00" height="6.00" rx="3.00" fill="#000" fill-opacity="0.9"/>
<rect x="321.20" y="628.10" width="16.00" height="3.60" rx="1.80" fill="#000" fill-opacity="0.6"/>
</g>
<rect x="169.00" y="642.00" width="78.50" height="16.50" fill="#eeeeee" />
<g filter="url(#b1)" clip-path="none">
<rect x="171.41" y="648.60" width="14.80" height="4.00" rx="2.00" fill="#000" fill-opacity="0.5"/>
<rect x="191.04" y="648.60" width="14.80" height="4.00" rx="2.00" fill="#000" fill-opacity="0.55"/>
<rect x="210.66" y="648.60" width="14.80" height="4.00" rx="2.00" fill="#000" fill-opacity="0.52"/>
<rect x="230.29" y="648.60" width="14.80" height="4.00" rx="2.00" fill="#000" fill-opacity="0.5"/>
</g>
<rect x="260.60" y="642.00" width="78.40" height="16.50" fill="#eeeeee" />
<g filter="url(#b1)" clip-path="none">
<rect x="263.00" y="648.60" width="14.80" height="4.00" rx="2.00" fill="#000" fill-opacity="0.48"/>
<rect x="282.60" y="648.30" width="14.80" height="4.60" rx="2.30" fill="#000" fill-opacity="0.52"/>
<rect x="302.20" y="648.30" width="14.80" height="4.60" rx="2.30" fill="#000" fill-opacity="0.42"/>
<rect x="321.80" y="648.60" width="14.80" height="4.00" rx="2.00" fill="#000" fill-opacity="0.48"/>
</g>
<rect x="169.00" y="670.00" width="78.50" height="20.00" fill="#efefef" />
<g filter="url(#b2)" clip-path="none">
<rect x="169.41" y="675.10" width="18.80" height="2.40" rx="1.20" fill="#000" fill-opacity="0.25"/>
<rect x="169.41" y="680.50" width="18.80" height="4.00" rx="2.00" fill="#000" fill-opacity="0.6"/>
<rect x="189.04" y="674.40" width="18.80" height="3.80" rx="1.90" fill="#000" fill-opacity="0.85"/>
<rect x="189.04" y="679.90" width="18.80" height="5.20" rx="2.60" fill="#000" fill-opacity="0.9"/>
<rect x="208.66" y="674.20" width="18.80" height="4.20" rx="2.10" fill="#000" fill-opacity="0.9"/>
<rect x="208.66" y="679.60" width="18.80" height="5.80" rx="2.90" fill="#000" fill-opacity="0.95"/>
<rect x="228.29" y="673.80" width="18.80" height="5.00" rx="2.50" fill="#000" fill-opacity="0.95"/>
<rect x="228.29" y="679.20" width="18.80" height="6.60" rx="3.30" fill="#000" fill-opacity="1"/>
</g>
<rect x="260.60" y="670.00" width="78.40" height="20.00" fill="#efefef" />
<g filter="url(#b2)" clip-path="none">
<rect x="261.00" y="675.80" width="18.80" height="2.00" rx="1.00" fill="#000" fill-opacity="0.1"/>
<rect x="261.00" y="681.50" width="18.80" height="3.00" rx="1.50" fill="#000" fill-opacity="0.45"/>
<rect x="280.60" y="674.80" width="18.80" height="4.00" rx="2.00" fill="#000" fill-opacity="0.85"/>
<rect x="280.60" y="680.10" width="18.80" height="5.80" rx="2.90" fill="#000" fill-opacity="0.92"/>
<rect x="300.20" y="674.90" width="18.80" height="3.80" rx="1.90" fill="#000" fill-opacity="0.85"/>
<rect x="300.20" y="680.40" width="18.80" height="5.20" rx="2.60" fill="#000" fill-opacity="0.9"/>
<rect x="319.80" y="674.80" width="18.80" height="4.00" rx="2.00" fill="#000" fill-opacity="0.88"/>
<rect x="319.80" y="680.30" width="18.80" height="5.40" rx="2.70" fill="#000" fill-opacity="0.92"/>
</g>
<rect x="169.00" y="691.00" width="78.50" height="17.30" fill="#efefef" />
<g filter="url(#b1)" clip-path="none">
<rect x="170.61" y="695.10" width="16.40" height="3.20" rx="1.60" fill="#000" fill-opacity="0.75"/>
<rect x="170.61" y="702.60" width="16.40" height="3.00" rx="1.50" fill="#000" fill-opacity="0.78"/>
<rect x="190.24" y="695.10" width="16.40" height="3.20" rx="1.60" fill="#000" fill-opacity="0.75"/>
<rect x="190.24" y="702.60" width="16.40" height="3.00" rx="1.50" fill="#000" fill-opacity="0.8"/>
<rect x="209.86" y="695.10" width="16.40" height="3.20" rx="1.60" fill="#000" fill-opacity="0.75"/>
<rect x="209.86" y="702.60" width="16.40" height="3.00" rx="1.50" fill="#000" fill-opacity="0.8"/>
<rect x="229.49" y="695.10" width="16.40" height="3.20" rx="1.60" fill="#000" fill-opacity="0.65"/>
<rect x="229.49" y="702.60" width="16.40" height="3.00" rx="1.50" fill="#000" fill-opacity="0.7"/>
</g>
<rect x="260.60" y="691.00" width="78.40" height="17.30" fill="#efefef" />
<g filter="url(#b1)" clip-path="none">
<rect x="262.20" y="695.10" width="16.40" height="3.20" rx="1.60" fill="#000" fill-opacity="0.7"/>
<rect x="262.20" y="702.60" width="16.40" height="3.00" rx="1.50" fill="#000" fill-opacity="0.75"/>
<rect x="281.80" y="695.10" width="16.40" height="3.20" rx="1.60" fill="#000" fill-opacity="0.65"/>
<rect x="281.80" y="702.60" width="16.40" height="3.00" rx="1.50" fill="#000" fill-opacity="0.75"/>
<rect x="301.40" y="695.10" width="16.40" height="3.20" rx="1.60" fill="#000" fill-opacity="0.6"/>
<rect x="301.40" y="702.60" width="16.40" height="3.00" rx="1.50" fill="#000" fill-opacity="0.7"/>
<rect x="321.00" y="695.10" width="16.40" height="3.20" rx="1.60" fill="#000" fill-opacity="0.6"/>
<rect x="321.00" y="702.60" width="16.40" height="3.00" rx="1.50" fill="#000" fill-opacity="0.65"/>
</g>
<rect x="169.00" y="720.80" width="78.50" height="17.20" fill="#efefef" />
<g filter="url(#b2)" clip-path="none">
<rect x="171.41" y="726.40" width="14.80" height="6.80" rx="3.33" fill="#000" fill-opacity="0.21000000000000002"/>
<rect x="171.41" y="726.00" width="14.80" height="3.00" rx="1.50" fill="#000" fill-opacity="0.196"/>
<rect x="191.04" y="726.40" width="14.80" height="6.80" rx="3.33" fill="#000" fill-opacity="0.315"/>
<rect x="191.04" y="726.00" width="14.80" height="3.00" rx="1.50" fill="#000" fill-opacity="0.294"/>
<rect x="210.66" y="726.40" width="14.80" height="6.80" rx="3.33" fill="#000" fill-opacity="0.24"/>
<rect x="210.66" y="726.00" width="14.80" height="3.00" rx="1.50" fill="#000" fill-opacity="0.22399999999999998"/>
<rect x="230.29" y="726.40" width="14.80" height="6.80" rx="3.33" fill="#000" fill-opacity="0.135"/>
<rect x="230.29" y="726.00" width="14.80" height="3.00" rx="1.50" fill="#000" fill-opacity="0.126"/>
</g>
<rect x="260.60" y="720.80" width="78.40" height="17.20" fill="#efefef" />
<g filter="url(#b2)" clip-path="none">
<rect x="263.00" y="726.40" width="14.80" height="6.80" rx="3.33" fill="#000" fill-opacity="0.3375"/>
<rect x="263.00" y="726.00" width="14.80" height="3.00" rx="1.50" fill="#000" fill-opacity="0.315"/>
<rect x="282.60" y="726.40" width="14.80" height="6.80" rx="3.33" fill="#000" fill-opacity="0.44999999999999996"/>
<rect x="282.60" y="726.00" width="14.80" height="3.00" rx="1.50" fill="#000" fill-opacity="0.42"/>
<rect x="302.20" y="726.40" width="14.80" height="6.80" rx="3.33" fill="#000" fill-opacity="0.3375"/>
<rect x="302.20" y="726.00" width="14.80" height="3.00" rx="1.50" fill="#000" fill-opacity="0.315"/>
<rect x="321.80" y="726.40" width="14.80" height="6.80" rx="3.33" fill="#000" fill-opacity="0.375"/>
<rect x="321.80" y="726.00" width="14.80" height="3.00" rx="1.50" fill="#000" fill-opacity="0.35"/>
</g>
<rect x="169.00" y="740.30" width="78.50" height="18.00" fill="#efefef" />
<g filter="url(#b1)" clip-path="none">
<rect x="171.41" y="747.20" width="14.80" height="4.20" rx="2.10" fill="#000" fill-opacity="0.62"/>
<rect x="191.04" y="747.20" width="14.80" height="4.20" rx="2.10" fill="#000" fill-opacity="0.66"/>
<rect x="210.66" y="747.20" width="14.80" height="4.20" rx="2.10" fill="#000" fill-opacity="0.62"/>
<rect x="230.29" y="747.20" width="14.80" height="4.20" rx="2.10" fill="#000" fill-opacity="0.6"/>
</g>
<rect x="260.60" y="740.30" width="78.40" height="18.00" fill="#efefef" />
<g filter="url(#b1)" clip-path="none">
<rect x="263.00" y="747.20" width="14.80" height="4.20" rx="2.10" fill="#000" fill-opacity="0.58"/>
<rect x="282.60" y="747.20" width="14.80" height="4.20" rx="2.10" fill="#000" fill-opacity="0.62"/>
<rect x="302.20" y="747.20" width="14.80" height="4.20" rx="2.10" fill="#000" fill-opacity="0.62"/>
<rect x="321.80" y="747.20" width="14.80" height="4.20" rx="2.10" fill="#000" fill-opacity="0.62"/>
</g>
<line x1="427.70" y1="536.80" x2="427.70" y2="587.90" stroke="#111" stroke-width="1.4"/>
<line x1="427.00" y1="587.20" x2="511.00" y2="587.20" stroke="#111" stroke-width="1.4"/>
<line x1="424.70" y1="587.20" x2="427.70" y2="587.20" stroke="#111" stroke-width="1"/>
<text transform="translate(424.50 589.97) scale(0.93 1)" font-size="9.4" text-anchor="end">0</text>
<line x1="424.70" y1="564.70" x2="427.70" y2="564.70" stroke="#111" stroke-width="1"/>
<text transform="translate(424.50 567.47) scale(0.93 1)" font-size="9.4" text-anchor="end">50</text>
<line x1="424.70" y1="542.20" x2="427.70" y2="542.20" stroke="#111" stroke-width="1"/>
<text transform="translate(424.50 544.97) scale(0.93 1)" font-size="9.4" text-anchor="end">100</text>
<line x1="427.70" y1="587.20" x2="427.70" y2="592.70" stroke="#111" stroke-width="1.2"/>
<line x1="448.02" y1="587.20" x2="448.02" y2="592.70" stroke="#111" stroke-width="1.2"/>
<line x1="468.35" y1="587.20" x2="468.35" y2="592.70" stroke="#111" stroke-width="1.2"/>
<line x1="509.00" y1="587.20" x2="509.00" y2="592.70" stroke="#111" stroke-width="1.2"/>
<text transform="translate(409.14 563.80) rotate(-90)" font-size="9.9" text-anchor="middle">% P-PKB</text>
<polyline points="427.70,580.90 448.02,566.23 468.35,555.38 509.00,571.45" fill="none" stroke="#111" stroke-width="1.5" stroke-linejoin="round" stroke-dasharray="2.3 1.5"/>
<polyline points="427.70,579.55 448.02,561.10 468.35,542.20 509.00,561.10" fill="none" stroke="#111" stroke-width="1.8" stroke-linejoin="round"/>
<line x1="427.70" y1="577.30" x2="427.70" y2="584.50" stroke="#111" stroke-width="1.1"/>
<line x1="426.20" y1="577.30" x2="429.20" y2="577.30" stroke="#111" stroke-width="1.1"/>
<line x1="426.20" y1="584.50" x2="429.20" y2="584.50" stroke="#111" stroke-width="1.1"/>
<line x1="448.02" y1="560.38" x2="448.02" y2="572.08" stroke="#111" stroke-width="1.1"/>
<line x1="446.52" y1="560.38" x2="449.52" y2="560.38" stroke="#111" stroke-width="1.1"/>
<line x1="446.52" y1="572.08" x2="449.52" y2="572.08" stroke="#111" stroke-width="1.1"/>
<line x1="468.35" y1="549.99" x2="468.35" y2="560.79" stroke="#111" stroke-width="1.1"/>
<line x1="466.85" y1="549.99" x2="469.85" y2="549.99" stroke="#111" stroke-width="1.1"/>
<line x1="466.85" y1="560.79" x2="469.85" y2="560.79" stroke="#111" stroke-width="1.1"/>
<line x1="509.00" y1="566.05" x2="509.00" y2="576.85" stroke="#111" stroke-width="1.1"/>
<line x1="507.50" y1="566.05" x2="510.50" y2="566.05" stroke="#111" stroke-width="1.1"/>
<line x1="507.50" y1="576.85" x2="510.50" y2="576.85" stroke="#111" stroke-width="1.1"/>
<line x1="427.70" y1="575.95" x2="427.70" y2="583.15" stroke="#111" stroke-width="1.1"/>
<line x1="426.20" y1="575.95" x2="429.20" y2="575.95" stroke="#111" stroke-width="1.1"/>
<line x1="426.20" y1="583.15" x2="429.20" y2="583.15" stroke="#111" stroke-width="1.1"/>
<line x1="448.02" y1="555.25" x2="448.02" y2="566.95" stroke="#111" stroke-width="1.1"/>
<line x1="446.52" y1="555.25" x2="449.52" y2="555.25" stroke="#111" stroke-width="1.1"/>
<line x1="446.52" y1="566.95" x2="449.52" y2="566.95" stroke="#111" stroke-width="1.1"/>
<line x1="468.35" y1="539.95" x2="468.35" y2="544.45" stroke="#111" stroke-width="1.1"/>
<line x1="466.85" y1="539.95" x2="469.85" y2="539.95" stroke="#111" stroke-width="1.1"/>
<line x1="466.85" y1="544.45" x2="469.85" y2="544.45" stroke="#111" stroke-width="1.1"/>
<line x1="509.00" y1="555.70" x2="509.00" y2="566.50" stroke="#111" stroke-width="1.1"/>
<line x1="507.50" y1="555.70" x2="510.50" y2="555.70" stroke="#111" stroke-width="1.1"/>
<line x1="507.50" y1="566.50" x2="510.50" y2="566.50" stroke="#111" stroke-width="1.1"/>
<ellipse cx="427.70" cy="580.90" rx="2.9" ry="3.5" fill="#fff" stroke="#111" stroke-width="1.2" />
<ellipse cx="448.02" cy="566.23" rx="2.9" ry="3.5" fill="#fff" stroke="#111" stroke-width="1.2" />
<ellipse cx="468.35" cy="555.38" rx="2.9" ry="3.5" fill="#fff" stroke="#111" stroke-width="1.2" />
<ellipse cx="509.00" cy="571.45" rx="2.9" ry="3.5" fill="#fff" stroke="#111" stroke-width="1.2" />
<ellipse cx="427.70" cy="579.55" rx="3.0" ry="3.5" fill="#111" stroke="#111" stroke-width="1" />
<ellipse cx="448.02" cy="561.10" rx="3.0" ry="3.5" fill="#111" stroke="#111" stroke-width="1" />
<ellipse cx="468.35" cy="542.20" rx="3.0" ry="3.5" fill="#111" stroke="#111" stroke-width="1" />
<ellipse cx="509.00" cy="561.10" rx="3.0" ry="3.5" fill="#111" stroke="#111" stroke-width="1" />
<text transform="translate(515.60 566.72) scale(0.9 1)" font-size="7.6" text-anchor="middle" style="fill:#222">(*)</text>
<line x1="427.70" y1="593.90" x2="427.70" y2="645.00" stroke="#111" stroke-width="1.4"/>
<line x1="427.00" y1="644.30" x2="511.00" y2="644.30" stroke="#111" stroke-width="1.4"/>
<line x1="424.70" y1="644.30" x2="427.70" y2="644.30" stroke="#111" stroke-width="1"/>
<text transform="translate(424.50 647.07) scale(0.93 1)" font-size="9.4" text-anchor="end">0</text>
<line x1="424.70" y1="621.80" x2="427.70" y2="621.80" stroke="#111" stroke-width="1"/>
<text transform="translate(424.50 624.57) scale(0.93 1)" font-size="9.4" text-anchor="end">50</text>
<line x1="424.70" y1="599.30" x2="427.70" y2="599.30" stroke="#111" stroke-width="1"/>
<text transform="translate(424.50 602.07) scale(0.93 1)" font-size="9.4" text-anchor="end">100</text>
<line x1="427.70" y1="644.30" x2="427.70" y2="649.80" stroke="#111" stroke-width="1.2"/>
<line x1="448.02" y1="644.30" x2="448.02" y2="649.80" stroke="#111" stroke-width="1.2"/>
<line x1="468.35" y1="644.30" x2="468.35" y2="649.80" stroke="#111" stroke-width="1.2"/>
<line x1="509.00" y1="644.30" x2="509.00" y2="649.80" stroke="#111" stroke-width="1.2"/>
<text transform="translate(409.14 620.90) rotate(-90)" font-size="9.9" text-anchor="middle">% P-p38</text>
<polyline points="427.70,620.45 448.02,620.90 468.35,611.90 509.00,612.80" fill="none" stroke="#111" stroke-width="1.5" stroke-linejoin="round" stroke-dasharray="2.3 1.5"/>
<polyline points="427.70,620.45 448.02,620.45 468.35,610.55 509.00,597.95" fill="none" stroke="#111" stroke-width="1.8" stroke-linejoin="round"/>
<line x1="427.70" y1="616.85" x2="427.70" y2="624.05" stroke="#111" stroke-width="1.1"/>
<line x1="426.20" y1="616.85" x2="429.20" y2="616.85" stroke="#111" stroke-width="1.1"/>
<line x1="426.20" y1="624.05" x2="429.20" y2="624.05" stroke="#111" stroke-width="1.1"/>
<line x1="448.02" y1="614.15" x2="448.02" y2="627.65" stroke="#111" stroke-width="1.1"/>
<line x1="446.52" y1="614.15" x2="449.52" y2="614.15" stroke="#111" stroke-width="1.1"/>
<line x1="446.52" y1="627.65" x2="449.52" y2="627.65" stroke="#111" stroke-width="1.1"/>
<line x1="468.35" y1="606.50" x2="468.35" y2="617.30" stroke="#111" stroke-width="1.1"/>
<line x1="466.85" y1="606.50" x2="469.85" y2="606.50" stroke="#111" stroke-width="1.1"/>
<line x1="466.85" y1="617.30" x2="469.85" y2="617.30" stroke="#111" stroke-width="1.1"/>
<line x1="509.00" y1="607.40" x2="509.00" y2="618.20" stroke="#111" stroke-width="1.1"/>
<line x1="507.50" y1="607.40" x2="510.50" y2="607.40" stroke="#111" stroke-width="1.1"/>
<line x1="507.50" y1="618.20" x2="510.50" y2="618.20" stroke="#111" stroke-width="1.1"/>
<line x1="427.70" y1="616.85" x2="427.70" y2="624.05" stroke="#111" stroke-width="1.1"/>
<line x1="426.20" y1="616.85" x2="429.20" y2="616.85" stroke="#111" stroke-width="1.1"/>
<line x1="426.20" y1="624.05" x2="429.20" y2="624.05" stroke="#111" stroke-width="1.1"/>
<line x1="448.02" y1="611.45" x2="448.02" y2="629.45" stroke="#111" stroke-width="1.1"/>
<line x1="446.52" y1="611.45" x2="449.52" y2="611.45" stroke="#111" stroke-width="1.1"/>
<line x1="446.52" y1="629.45" x2="449.52" y2="629.45" stroke="#111" stroke-width="1.1"/>
<line x1="468.35" y1="606.05" x2="468.35" y2="615.05" stroke="#111" stroke-width="1.1"/>
<line x1="466.85" y1="606.05" x2="469.85" y2="606.05" stroke="#111" stroke-width="1.1"/>
<line x1="466.85" y1="615.05" x2="469.85" y2="615.05" stroke="#111" stroke-width="1.1"/>
<line x1="509.00" y1="594.35" x2="509.00" y2="601.55" stroke="#111" stroke-width="1.1"/>
<line x1="507.50" y1="594.35" x2="510.50" y2="594.35" stroke="#111" stroke-width="1.1"/>
<line x1="507.50" y1="601.55" x2="510.50" y2="601.55" stroke="#111" stroke-width="1.1"/>
<ellipse cx="427.70" cy="620.45" rx="2.9" ry="3.5" fill="#fff" stroke="#111" stroke-width="1.2" />
<ellipse cx="448.02" cy="620.90" rx="2.9" ry="3.5" fill="#fff" stroke="#111" stroke-width="1.2" />
<ellipse cx="468.35" cy="611.90" rx="2.9" ry="3.5" fill="#fff" stroke="#111" stroke-width="1.2" />
<ellipse cx="509.00" cy="612.80" rx="2.9" ry="3.5" fill="#fff" stroke="#111" stroke-width="1.2" />
<ellipse cx="427.70" cy="620.45" rx="3.0" ry="3.5" fill="#111" stroke="#111" stroke-width="1" />
<ellipse cx="448.02" cy="620.45" rx="3.0" ry="3.5" fill="#111" stroke="#111" stroke-width="1" />
<ellipse cx="468.35" cy="610.55" rx="3.0" ry="3.5" fill="#111" stroke="#111" stroke-width="1" />
<ellipse cx="509.00" cy="597.95" rx="3.0" ry="3.5" fill="#111" stroke="#111" stroke-width="1" />
<text transform="translate(515.60 606.52) scale(0.9 1)" font-size="7.6" text-anchor="middle" style="fill:#222">(*)</text>
<line x1="427.70" y1="655.00" x2="427.70" y2="706.10" stroke="#111" stroke-width="1.4"/>
<line x1="427.00" y1="705.40" x2="511.00" y2="705.40" stroke="#111" stroke-width="1.4"/>
<line x1="424.70" y1="705.40" x2="427.70" y2="705.40" stroke="#111" stroke-width="1"/>
<text transform="translate(424.50 708.17) scale(0.93 1)" font-size="9.4" text-anchor="end">0</text>
<line x1="424.70" y1="682.90" x2="427.70" y2="682.90" stroke="#111" stroke-width="1"/>
<text transform="translate(424.50 685.67) scale(0.93 1)" font-size="9.4" text-anchor="end">50</text>
<line x1="424.70" y1="660.40" x2="427.70" y2="660.40" stroke="#111" stroke-width="1"/>
<text transform="translate(424.50 663.17) scale(0.93 1)" font-size="9.4" text-anchor="end">100</text>
<line x1="427.70" y1="705.40" x2="427.70" y2="710.90" stroke="#111" stroke-width="1.2"/>
<line x1="448.02" y1="705.40" x2="448.02" y2="710.90" stroke="#111" stroke-width="1.2"/>
<line x1="468.35" y1="705.40" x2="468.35" y2="710.90" stroke="#111" stroke-width="1.2"/>
<line x1="509.00" y1="705.40" x2="509.00" y2="710.90" stroke="#111" stroke-width="1.2"/>
<text transform="translate(409.14 682.00) rotate(-90)" font-size="9.9" text-anchor="middle">% P-p44/42</text>
<polyline points="427.70,695.05 448.02,668.50 468.35,673.00 509.00,678.85" fill="none" stroke="#111" stroke-width="1.5" stroke-linejoin="round" stroke-dasharray="2.3 1.5"/>
<polyline points="427.70,688.75 448.02,673.00 468.35,667.60 509.00,659.05" fill="none" stroke="#111" stroke-width="1.8" stroke-linejoin="round"/>
<line x1="427.70" y1="690.55" x2="427.70" y2="699.55" stroke="#111" stroke-width="1.1"/>
<line x1="426.20" y1="690.55" x2="429.20" y2="690.55" stroke="#111" stroke-width="1.1"/>
<line x1="426.20" y1="699.55" x2="429.20" y2="699.55" stroke="#111" stroke-width="1.1"/>
<line x1="448.02" y1="663.10" x2="448.02" y2="673.90" stroke="#111" stroke-width="1.1"/>
<line x1="446.52" y1="663.10" x2="449.52" y2="663.10" stroke="#111" stroke-width="1.1"/>
<line x1="446.52" y1="673.90" x2="449.52" y2="673.90" stroke="#111" stroke-width="1.1"/>
<line x1="468.35" y1="669.40" x2="468.35" y2="676.60" stroke="#111" stroke-width="1.1"/>
<line x1="466.85" y1="669.40" x2="469.85" y2="669.40" stroke="#111" stroke-width="1.1"/>
<line x1="466.85" y1="676.60" x2="469.85" y2="676.60" stroke="#111" stroke-width="1.1"/>
<line x1="509.00" y1="673.90" x2="509.00" y2="683.80" stroke="#111" stroke-width="1.1"/>
<line x1="507.50" y1="673.90" x2="510.50" y2="673.90" stroke="#111" stroke-width="1.1"/>
<line x1="507.50" y1="683.80" x2="510.50" y2="683.80" stroke="#111" stroke-width="1.1"/>
<line x1="427.70" y1="685.15" x2="427.70" y2="692.35" stroke="#111" stroke-width="1.1"/>
<line x1="426.20" y1="685.15" x2="429.20" y2="685.15" stroke="#111" stroke-width="1.1"/>
<line x1="426.20" y1="692.35" x2="429.20" y2="692.35" stroke="#111" stroke-width="1.1"/>
<line x1="448.02" y1="666.70" x2="448.02" y2="679.30" stroke="#111" stroke-width="1.1"/>
<line x1="446.52" y1="666.70" x2="449.52" y2="666.70" stroke="#111" stroke-width="1.1"/>
<line x1="446.52" y1="679.30" x2="449.52" y2="679.30" stroke="#111" stroke-width="1.1"/>
<line x1="468.35" y1="664.00" x2="468.35" y2="671.20" stroke="#111" stroke-width="1.1"/>
<line x1="466.85" y1="664.00" x2="469.85" y2="664.00" stroke="#111" stroke-width="1.1"/>
<line x1="466.85" y1="671.20" x2="469.85" y2="671.20" stroke="#111" stroke-width="1.1"/>
<line x1="509.00" y1="656.80" x2="509.00" y2="661.30" stroke="#111" stroke-width="1.1"/>
<line x1="507.50" y1="656.80" x2="510.50" y2="656.80" stroke="#111" stroke-width="1.1"/>
<line x1="507.50" y1="661.30" x2="510.50" y2="661.30" stroke="#111" stroke-width="1.1"/>
<ellipse cx="427.70" cy="688.75" rx="3.0" ry="3.5" fill="#111" stroke="#111" stroke-width="1" />
<ellipse cx="448.02" cy="673.00" rx="3.0" ry="3.5" fill="#111" stroke="#111" stroke-width="1" />
<ellipse cx="468.35" cy="667.60" rx="3.0" ry="3.5" fill="#111" stroke="#111" stroke-width="1" />
<ellipse cx="509.00" cy="659.05" rx="3.0" ry="3.5" fill="#111" stroke="#111" stroke-width="1" />
<ellipse cx="427.70" cy="695.05" rx="2.9" ry="3.5" fill="#fff" stroke="#111" stroke-width="1.2" />
<ellipse cx="448.02" cy="668.50" rx="2.9" ry="3.5" fill="#fff" stroke="#111" stroke-width="1.2" />
<ellipse cx="468.35" cy="673.00" rx="2.9" ry="3.5" fill="#fff" stroke="#111" stroke-width="1.2" />
<ellipse cx="509.00" cy="678.85" rx="2.9" ry="3.5" fill="#fff" stroke="#111" stroke-width="1.2" />
<text transform="translate(515.60 671.22) scale(0.9 1)" font-size="7.6" text-anchor="middle" style="fill:#222">(*)</text>
<line x1="427.70" y1="720.30" x2="427.70" y2="771.40" stroke="#111" stroke-width="1.4"/>
<line x1="427.00" y1="770.70" x2="511.00" y2="770.70" stroke="#111" stroke-width="1.4"/>
<line x1="424.70" y1="770.70" x2="427.70" y2="770.70" stroke="#111" stroke-width="1"/>
<text transform="translate(424.50 773.47) scale(0.93 1)" font-size="9.4" text-anchor="end">0</text>
<line x1="424.70" y1="748.20" x2="427.70" y2="748.20" stroke="#111" stroke-width="1"/>
<text transform="translate(424.50 750.97) scale(0.93 1)" font-size="9.4" text-anchor="end">50</text>
<line x1="424.70" y1="725.70" x2="427.70" y2="725.70" stroke="#111" stroke-width="1"/>
<text transform="translate(424.50 728.47) scale(0.93 1)" font-size="9.4" text-anchor="end">100</text>
<line x1="427.70" y1="770.70" x2="427.70" y2="776.20" stroke="#111" stroke-width="1.2"/>
<line x1="448.02" y1="770.70" x2="448.02" y2="776.20" stroke="#111" stroke-width="1.2"/>
<line x1="468.35" y1="770.70" x2="468.35" y2="776.20" stroke="#111" stroke-width="1.2"/>
<line x1="509.00" y1="770.70" x2="509.00" y2="776.20" stroke="#111" stroke-width="1.2"/>
<text transform="translate(409.14 747.30) rotate(-90)" font-size="9.9" text-anchor="middle">% P-PKC</text>
<polyline points="427.70,730.79 448.02,722.69 468.35,730.79 509.00,729.30" fill="none" stroke="#111" stroke-width="1.5" stroke-linejoin="round" stroke-dasharray="2.3 1.5"/>
<polyline points="427.70,743.25 448.02,732.63 468.35,737.85 509.00,748.20" fill="none" stroke="#111" stroke-width="1.8" stroke-linejoin="round"/>
<line x1="427.70" y1="726.29" x2="427.70" y2="735.29" stroke="#111" stroke-width="1.1"/>
<line x1="426.20" y1="726.29" x2="429.20" y2="726.29" stroke="#111" stroke-width="1.1"/>
<line x1="426.20" y1="735.29" x2="429.20" y2="735.29" stroke="#111" stroke-width="1.1"/>
<line x1="448.02" y1="717.29" x2="448.02" y2="728.09" stroke="#111" stroke-width="1.1"/>
<line x1="446.52" y1="717.29" x2="449.52" y2="717.29" stroke="#111" stroke-width="1.1"/>
<line x1="446.52" y1="728.09" x2="449.52" y2="728.09" stroke="#111" stroke-width="1.1"/>
<line x1="468.35" y1="725.38" x2="468.35" y2="736.19" stroke="#111" stroke-width="1.1"/>
<line x1="466.85" y1="725.38" x2="469.85" y2="725.38" stroke="#111" stroke-width="1.1"/>
<line x1="466.85" y1="736.19" x2="469.85" y2="736.19" stroke="#111" stroke-width="1.1"/>
<line x1="509.00" y1="723.00" x2="509.00" y2="735.60" stroke="#111" stroke-width="1.1"/>
<line x1="507.50" y1="723.00" x2="510.50" y2="723.00" stroke="#111" stroke-width="1.1"/>
<line x1="507.50" y1="735.60" x2="510.50" y2="735.60" stroke="#111" stroke-width="1.1"/>
<line x1="427.70" y1="738.75" x2="427.70" y2="747.75" stroke="#111" stroke-width="1.1"/>
<line x1="426.20" y1="738.75" x2="429.20" y2="738.75" stroke="#111" stroke-width="1.1"/>
<line x1="426.20" y1="747.75" x2="429.20" y2="747.75" stroke="#111" stroke-width="1.1"/>
<line x1="448.02" y1="729.03" x2="448.02" y2="736.23" stroke="#111" stroke-width="1.1"/>
<line x1="446.52" y1="729.03" x2="449.52" y2="729.03" stroke="#111" stroke-width="1.1"/>
<line x1="446.52" y1="736.23" x2="449.52" y2="736.23" stroke="#111" stroke-width="1.1"/>
<line x1="468.35" y1="731.55" x2="468.35" y2="744.15" stroke="#111" stroke-width="1.1"/>
<line x1="466.85" y1="731.55" x2="469.85" y2="731.55" stroke="#111" stroke-width="1.1"/>
<line x1="466.85" y1="744.15" x2="469.85" y2="744.15" stroke="#111" stroke-width="1.1"/>
<line x1="509.00" y1="743.25" x2="509.00" y2="753.15" stroke="#111" stroke-width="1.1"/>
<line x1="507.50" y1="743.25" x2="510.50" y2="743.25" stroke="#111" stroke-width="1.1"/>
<line x1="507.50" y1="753.15" x2="510.50" y2="753.15" stroke="#111" stroke-width="1.1"/>
<ellipse cx="427.70" cy="743.25" rx="3.0" ry="3.5" fill="#111" stroke="#111" stroke-width="1" />
<ellipse cx="448.02" cy="732.63" rx="3.0" ry="3.5" fill="#111" stroke="#111" stroke-width="1" />
<ellipse cx="468.35" cy="737.85" rx="3.0" ry="3.5" fill="#111" stroke="#111" stroke-width="1" />
<ellipse cx="509.00" cy="748.20" rx="3.0" ry="3.5" fill="#111" stroke="#111" stroke-width="1" />
<ellipse cx="427.70" cy="730.79" rx="2.9" ry="3.5" fill="#fff" stroke="#111" stroke-width="1.2" />
<ellipse cx="448.02" cy="722.69" rx="2.9" ry="3.5" fill="#fff" stroke="#111" stroke-width="1.2" />
<ellipse cx="468.35" cy="730.79" rx="2.9" ry="3.5" fill="#fff" stroke="#111" stroke-width="1.2" />
<ellipse cx="509.00" cy="729.30" rx="2.9" ry="3.5" fill="#fff" stroke="#111" stroke-width="1.2" />
<text transform="translate(515.60 741.62) scale(0.9 1)" font-size="7.6" text-anchor="middle" style="fill:#222">(*)</text>
<text transform="translate(428.00 786.38)" font-size="8.6" text-anchor="middle">0</text>
<text transform="translate(448.32 786.38)" font-size="8.6" text-anchor="middle">15</text>
<text transform="translate(468.65 786.38)" font-size="8.6" text-anchor="middle">30</text>
<text transform="translate(509.30 786.38)" font-size="8.6" text-anchor="middle">60</text>
<text transform="translate(481.00 798.49) scale(0.8 1)" font-size="9.2">Time (min)</text>
<text transform="translate(494.00 542.50)" font-size="9.4" font-style="italic" style='font-family:"Liberation Serif", serif'>n = 3</text>
<rect x="420.20" y="505.20" width="48.60" height="27.20" fill="#fff" stroke="#222" stroke-width="1" />
<line x1="422.80" y1="515.00" x2="438.00" y2="515.00" stroke="#111" stroke-width="1.6"/>
<ellipse cx="430.20" cy="515.00" rx="2.7" ry="2.9" fill="#111" stroke="#111" stroke-width="1" />
<line x1="422.80" y1="527.60" x2="438.00" y2="527.60" stroke="#111" stroke-width="1.2"/>
<ellipse cx="430.20" cy="527.60" rx="2.6" ry="2.8" fill="#fff" stroke="#111" stroke-width="1.1" />
<text transform="translate(441.00 518.64) scale(0.93 1)" font-size="9.6">p85β</text>
<text transform="translate(461.00 513.00) scale(0.9 1)" font-size="5.2">+/-</text>
<text transform="translate(441.00 531.24) scale(0.93 1)" font-size="9.6">p85β</text>
<text transform="translate(461.00 525.60) scale(0.9 1)" font-size="5.2">-/-</text>
</svg>
</body></html>
